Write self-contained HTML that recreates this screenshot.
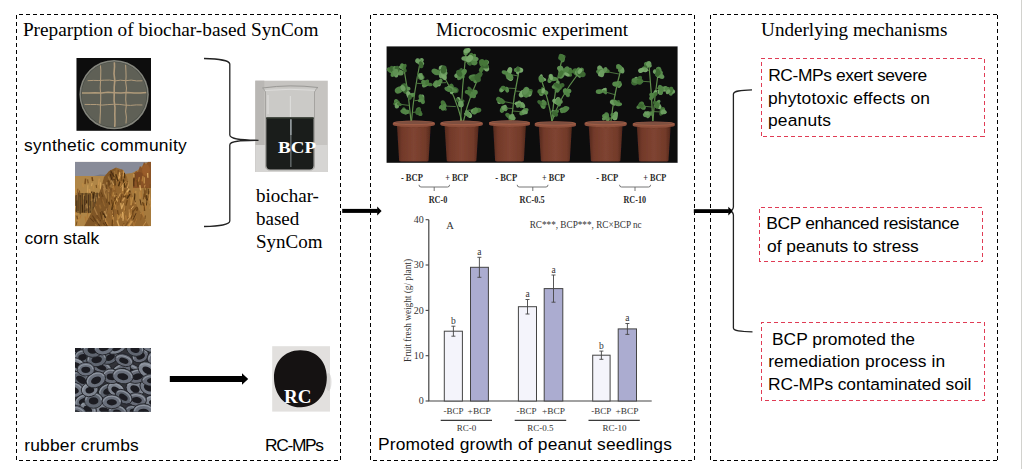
<!DOCTYPE html>
<html><head><meta charset="utf-8"><title>Graphical abstract</title>
<style>
html,body{margin:0;padding:0;background:#fff;}
body{width:1022px;height:469px;overflow:hidden;position:relative;}
svg{position:absolute;left:0;top:0;display:block;}
.sf{font-family:"Liberation Serif","Times New Roman",serif;}
.ss{font-family:"Liberation Sans",Arial,sans-serif;}
</style></head><body>
<svg width="1022" height="469" viewBox="0 0 1022 469">
<defs>
<linearGradient id="potg" x1="0" x2="1" y1="0" y2="0">
<stop offset="0" stop-color="#552a1c"/><stop offset="0.15" stop-color="#72392a"/><stop offset="0.5" stop-color="#7f4431"/><stop offset="0.85" stop-color="#723a2a"/><stop offset="1" stop-color="#52281b"/>
</linearGradient>
<filter id="soft" x="-5%" y="-5%" width="110%" height="110%"><feGaussianBlur stdDeviation="0.45"/></filter>
</defs>
<rect x="0" y="0" width="1022" height="469" fill="#fff"/>
<rect x="1021" y="0" width="1" height="469" fill="#d2d2ce"/>

<g filter="url(#soft)">
<rect x="76.5" y="58" width="74.5" height="72.8" fill="#0b0b0b"/>
<circle cx="114.1" cy="94.6" r="34.7" fill="#83847b"/>
<circle cx="114.1" cy="94.6" r="33.2" fill="#4a4c45"/>
<circle cx="114.1" cy="94.6" r="32.5" fill="#5e6057"/>
<clipPath id="dishc"><circle cx="114.1" cy="94.6" r="32.4"/></clipPath>
<g clip-path="url(#dishc)" stroke="#b09a7a" fill="none" stroke-linecap="round" stroke-linejoin="round">
<polyline points="100.3,64 100.8,70 100.7,76 100.5,82 100.2,88 100.7,94 100.7,100 100.4,106 100.4,112 100.1,118 99.8,124" stroke-width="1.1"/>
<polyline points="114.3,60 114.5,66.8 114,73.6 114.8,80.4 114.2,87.2 114.2,94 114.1,100.8 115,107.6 114.8,114.4 115,121.2 114.7,128" stroke-width="1.6"/>
<polyline points="125.6,65 125.9,70.8 126.1,76.6 125.7,82.4 126.5,88.2 125.9,94 125.7,99.8 126.3,105.6 125.6,111.4 126.4,117.2 126,123" stroke-width="1.1"/>
<polyline points="88,80.7 93.4,80.4 98.8,80.5 104.2,80.2 109.6,80.1 115,80.9 120.4,80.2 125.8,80.7 131.2,80.1 136.6,80.9 142,80.8" stroke-width="1.0"/>
<polyline points="82,93.1 88.5,93 95,92.8 101.5,93 108,92.3 114.5,92.7 121,93 127.5,92.4 134,93.1 140.5,93 147,92.5" stroke-width="1.5"/>
<polyline points="85,104.4 90.7,104.5 96.4,104.5 102.1,105.1 107.8,104.6 113.5,104.3 119.2,104.4 124.9,105.1 130.6,105.4 136.3,104.9 142,105" stroke-width="1.0"/>
</g>
</g>
<g filter="url(#soft)">
<clipPath id="cornc"><rect x="75" y="161.8" width="76" height="64.5"/></clipPath>
<clipPath id="shockc"><path d="M84,226.3 L95,206 L101,188 L104,177 L109,171 L116,167.5 L123,170 L127,177 L130,190 L138,208 L149,226.3 Z"/></clipPath>
<g clip-path="url(#cornc)">
<rect x="75" y="161.8" width="76" height="64.5" fill="#a67a3e"/>
<path d="M75,161.8 L151,161.8 L151,163 L146,162.5 L142,166 L138,170 L132,173 L124,174 L116,172 L108,174 L100,176 L90,176.5 L75,176 Z" fill="#888b98"/>
<path d="M92,176.6 L100,174.5 L108,175 L108,178 L94,178 Z" fill="#787880"/>
<path d="M133,176 L136,171 L138,172 L140,166 L142,168 L144,162 L146,165 L148,161.8 L151,161.8 L151,188 L133,188 Z" fill="#8a5226"/>
<ellipse cx="146" cy="170" rx="4" ry="6" fill="#9c5e2a" opacity="0.8"/>
<ellipse cx="139" cy="176" rx="4" ry="4" fill="#7a4620" opacity="0.7"/>
<rect x="75" y="176" width="30" height="50.3" fill="#b08646"/>
<rect x="75" y="193" width="26" height="20" fill="#4a3014" opacity="0.45"/>
<path d="M93.1,202 L93.3,206.9" stroke="#b07a38" stroke-width="1.3"/>
<path d="M144.1,193.6 L143.3,199.3" stroke="#7a5020" stroke-width="1.2"/>
<path d="M116.8,195.3 L116.1,202.6" stroke="#6e4518" stroke-width="1.5"/>
<path d="M114.8,211.1 L113.7,217.5" stroke="#c89450" stroke-width="1"/>
<path d="M77.4,216.8 L77.9,222.2" stroke="#bc8a44" stroke-width="1.4"/>
<path d="M145,190.2 L144.9,197.2" stroke="#6e4518" stroke-width="1.5"/>
<path d="M82.4,183.3 L83.5,187.3" stroke="#bc8a44" stroke-width="1.4"/>
<path d="M140,191.4 L140.2,198.5" stroke="#bc8a44" stroke-width="1.3"/>
<path d="M143.7,203.4 L144.6,211" stroke="#6e4518" stroke-width="1.4"/>
<path d="M99.8,201.9 L98.9,207.8" stroke="#4e3010" stroke-width="1.3"/>
<path d="M150.1,184.3 L150.1,187.9" stroke="#7a5020" stroke-width="0.9"/>
<path d="M135.8,190.9 L135.4,194.6" stroke="#bc8a44" stroke-width="1.5"/>
<path d="M78.4,205.3 L78.9,208.5" stroke="#8c5c28" stroke-width="1.2"/>
<path d="M145.1,184.8 L143.9,189" stroke="#c89450" stroke-width="0.9"/>
<path d="M120.6,178.4 L120.4,182.4" stroke="#d8a860" stroke-width="0.9"/>
<path d="M78.2,216.9 L79.3,221.5" stroke="#bc8a44" stroke-width="1.1"/>
<path d="M141.1,189.8 L141.5,197.1" stroke="#b07a38" stroke-width="1.3"/>
<path d="M146.5,195.3 L147,200.5" stroke="#4e3010" stroke-width="1.5"/>
<path d="M108.2,188.9 L107.9,193.4" stroke="#bc8a44" stroke-width="1.6"/>
<path d="M98.9,194.3 L98.1,200.3" stroke="#8c5c28" stroke-width="1.2"/>
<path d="M126.6,193.2 L127.2,199.8" stroke="#c89450" stroke-width="1.3"/>
<path d="M147.6,173 L147.9,177.8" stroke="#d8a860" stroke-width="1.3"/>
<path d="M99.3,193.7 L99,198.3" stroke="#d8a860" stroke-width="1"/>
<path d="M103.7,212.5 L103.8,215.7" stroke="#6e4518" stroke-width="1"/>
<path d="M91.9,214 L91.2,218.2" stroke="#bc8a44" stroke-width="1.3"/>
<path d="M82.4,204.6 L82.8,212.4" stroke="#4e3010" stroke-width="1.2"/>
<path d="M140,179.8 L140.4,184.5" stroke="#7a5020" stroke-width="1"/>
<path d="M134.8,173.6 L134.4,181.3" stroke="#6e4518" stroke-width="1.5"/>
<path d="M100.8,215.1 L101.1,218.5" stroke="#6e4518" stroke-width="1.1"/>
<path d="M114.4,216.1 L114.7,221.4" stroke="#d8a860" stroke-width="1.1"/>
<path d="M106.1,219.3 L104.9,223.1" stroke="#bc8a44" stroke-width="1.2"/>
<path d="M149.9,205 L149.8,208.2" stroke="#d8a860" stroke-width="1.2"/>
<path d="M142.6,211.6 L143.7,218.9" stroke="#b07a38" stroke-width="1.4"/>
<path d="M78.4,218.6 L79.4,225" stroke="#bc8a44" stroke-width="1.3"/>
<path d="M76,211.3 L75.5,215.1" stroke="#c89450" stroke-width="1.2"/>
<path d="M106.4,220.2 L106.1,226" stroke="#d8a860" stroke-width="1.6"/>
<path d="M116.1,214.3 L115.4,217.6" stroke="#b07a38" stroke-width="1.2"/>
<path d="M137.1,179.9 L138.1,186.8" stroke="#6e4518" stroke-width="1.5"/>
<path d="M75.6,205.9 L74.5,213.2" stroke="#d8a860" stroke-width="1"/>
<path d="M122,200.9 L121.6,204.2" stroke="#c89450" stroke-width="1.5"/>
<path d="M133.9,174.1 L133.9,177.4" stroke="#c89450" stroke-width="1.5"/>
<path d="M81.5,200.1 L81.1,204.7" stroke="#8c5c28" stroke-width="1.1"/>
<path d="M104.6,191 L105.8,195.3" stroke="#bc8a44" stroke-width="0.9"/>
<path d="M117.2,209.9 L116.2,214.8" stroke="#6e4518" stroke-width="0.8"/>
<path d="M110,206.9 L110.4,212.6" stroke="#c89450" stroke-width="1.3"/>
<path d="M107.8,194.1 L108.3,199.6" stroke="#bc8a44" stroke-width="1.6"/>
<path d="M106.8,177.8 L106.2,181.9" stroke="#b07a38" stroke-width="1.4"/>
<path d="M92.1,183 L91.6,186.1" stroke="#d8a860" stroke-width="0.9"/>
<path d="M127.5,220.2 L128.3,226" stroke="#bc8a44" stroke-width="1.3"/>
<path d="M130.8,202.9 L131,206.5" stroke="#c89450" stroke-width="1.2"/>
<path d="M92.9,194.9 L93.1,200.5" stroke="#bc8a44" stroke-width="0.9"/>
<path d="M76.8,215.7 L77.6,219.3" stroke="#7a5020" stroke-width="1.5"/>
<path d="M147.4,198.6 L146.3,205.6" stroke="#4e3010" stroke-width="0.9"/>
<path d="M131.9,220 L131.5,223.3" stroke="#6e4518" stroke-width="1.5"/>
<path d="M93.4,185.3 L93.7,189.5" stroke="#bc8a44" stroke-width="1"/>
<path d="M120.6,220.2 L121.7,226" stroke="#bc8a44" stroke-width="1.2"/>
<path d="M149,191 L148.1,197.7" stroke="#7a5020" stroke-width="0.9"/>
<path d="M105.5,217.8 L105.5,221.6" stroke="#7a5020" stroke-width="1.5"/>
<path d="M114.3,197.4 L113.6,204" stroke="#d8a860" stroke-width="1.4"/>
<path d="M86.1,200.7 L87,208.4" stroke="#d8a860" stroke-width="1.3"/>
<path d="M140,199.4 L141.2,205.3" stroke="#4e3010" stroke-width="1"/>
<path d="M95.4,214 L95.5,218" stroke="#4e3010" stroke-width="1.1"/>
<path d="M133.8,178.6 L133.8,186.6" stroke="#4e3010" stroke-width="1.2"/>
<path d="M138.4,209.8 L138.4,215.6" stroke="#b07a38" stroke-width="1.5"/>
<path d="M105.4,210.7 L105.3,218.5" stroke="#4e3010" stroke-width="1.5"/>
<path d="M124.3,212.8 L123.6,216.1" stroke="#d8a860" stroke-width="1"/>
<path d="M89.4,188.9 L89.9,192.8" stroke="#c89450" stroke-width="1.5"/>
<path d="M94.4,216.8 L94.2,221.4" stroke="#b07a38" stroke-width="0.9"/>
<path d="M95.1,219 L95,222.2" stroke="#8c5c28" stroke-width="0.8"/>
<path d="M100.4,197.1 L99.7,202.5" stroke="#7a5020" stroke-width="1.1"/>
<path d="M116.4,182.5 L116.8,186.9" stroke="#b07a38" stroke-width="1.2"/>
<path d="M115.1,188.5 L115.6,194.2" stroke="#8c5c28" stroke-width="1.4"/>
<path d="M97.5,208.1 L98.2,214.4" stroke="#d8a860" stroke-width="0.9"/>
<path d="M146.8,187.6 L146.8,193.4" stroke="#7a5020" stroke-width="1.2"/>
<path d="M79.5,190.5 L80.1,197.2" stroke="#6e4518" stroke-width="0.9"/>
<path d="M142.6,202.1 L143.7,205.8" stroke="#6e4518" stroke-width="1.5"/>
<path d="M124,206.9 L123.5,212" stroke="#6e4518" stroke-width="1.2"/>
<path d="M98.7,185.1 L99.3,188.5" stroke="#bc8a44" stroke-width="1.1"/>
<path d="M95.2,194.6 L94.1,202" stroke="#d8a860" stroke-width="1"/>
<path d="M133.4,188.3 L133.2,193" stroke="#b07a38" stroke-width="1.1"/>
<path d="M139.4,177.2 L138.4,181.5" stroke="#b07a38" stroke-width="1.3"/>
<path d="M144.2,177.2 L144.3,183.6" stroke="#bc8a44" stroke-width="1.5"/>
<path d="M131.9,204.2 L131.7,208" stroke="#4e3010" stroke-width="1.2"/>
<path d="M87.9,185.2 L87.6,192.6" stroke="#d8a860" stroke-width="0.8"/>
<path d="M136,213 L135.8,220.7" stroke="#d8a860" stroke-width="1.3"/>
<path d="M149.3,203.6 L150.1,208.1" stroke="#7a5020" stroke-width="0.8"/>
<path d="M89.5,206.2 L90.1,209.7" stroke="#4e3010" stroke-width="1.2"/>
<path d="M114.8,198.2 L114.9,202.2" stroke="#c89450" stroke-width="1.5"/>
<path d="M145.4,215.5 L144.9,219.1" stroke="#6e4518" stroke-width="0.9"/>
<path d="M135.2,200.7 L134.9,203.9" stroke="#4e3010" stroke-width="1.2"/>
<path d="M112.9,177.9 L112.5,182.6" stroke="#8c5c28" stroke-width="1.4"/>
<path d="M85.2,216.5 L86.2,222.5" stroke="#b07a38" stroke-width="1.4"/>
<path d="M101.1,214.1 L102,221.8" stroke="#bc8a44" stroke-width="1.4"/>
<path d="M91.8,191.5 L91.6,198.5" stroke="#4e3010" stroke-width="1.4"/>
<path d="M104.8,198.8 L105.6,202.1" stroke="#4e3010" stroke-width="1.3"/>
<path d="M98.2,198.4 L97.9,205.1" stroke="#6e4518" stroke-width="1.2"/>
<path d="M77.8,188.8 L77.7,196" stroke="#8c5c28" stroke-width="1.3"/>
<path d="M92,177.1 L92.7,181.2" stroke="#6e4518" stroke-width="1.5"/>
<path d="M115.6,184.3 L115.8,187.4" stroke="#6e4518" stroke-width="1.3"/>
<path d="M85.6,205 L84.8,210.2" stroke="#c89450" stroke-width="1.1"/>
<path d="M99.2,178.5 L98.5,185.1" stroke="#c89450" stroke-width="1.1"/>
<path d="M77,221.4 L76.1,225.5" stroke="#7a5020" stroke-width="1"/>
<path d="M100.3,182.3 L100.5,189.9" stroke="#d8a860" stroke-width="1"/>
<path d="M134.9,193.4 L134.4,201.1" stroke="#4e3010" stroke-width="1.2"/>
<path d="M77.3,192.5 L76.8,200.5" stroke="#c89450" stroke-width="1.3"/>
<path d="M148.7,199.2 L147.5,202.3" stroke="#b07a38" stroke-width="0.8"/>
<path d="M113.2,199.2 L113.3,203.1" stroke="#8c5c28" stroke-width="1"/>
<path d="M149,193.9 L150,201" stroke="#c89450" stroke-width="1.1"/>
<path d="M132.1,201 L133.2,206" stroke="#6e4518" stroke-width="1.5"/>
<path d="M83.7,194.9 L84.1,199.6" stroke="#bc8a44" stroke-width="0.9"/>
<path d="M131.2,210.8 L131.4,217.9" stroke="#6e4518" stroke-width="1.1"/>
<path d="M106.5,187.6 L106.5,194.4" stroke="#d8a860" stroke-width="1.5"/>
<path d="M113.5,211.6 L114,219.2" stroke="#7a5020" stroke-width="0.8"/>
<path d="M88,211.6 L87.1,218.7" stroke="#b07a38" stroke-width="1.1"/>
<path d="M120.7,213.9 L120.9,217.1" stroke="#c89450" stroke-width="1.2"/>
<path d="M143.2,205.7 L142.9,210.4" stroke="#b07a38" stroke-width="1"/>
<path d="M134.8,214.1 L134.3,218.8" stroke="#7a5020" stroke-width="0.9"/>
<path d="M124.3,188.1 L123.5,191.3" stroke="#6e4518" stroke-width="1.3"/>
<path d="M75.9,187.6 L75.2,195.4" stroke="#bc8a44" stroke-width="1.2"/>
<path d="M143.9,186.7 L144.6,194.1" stroke="#7a5020" stroke-width="0.9"/>
<path d="M81,215 L79.9,218.5" stroke="#b07a38" stroke-width="1"/>
<path d="M142.9,175.9 L142.2,181.3" stroke="#b07a38" stroke-width="1.3"/>
<path d="M132.9,212.1 L133.1,216.8" stroke="#7a5020" stroke-width="1.4"/>
<path d="M97.2,220.5 L96.9,225.7" stroke="#b07a38" stroke-width="1.2"/>
<path d="M110.3,210.5 L109.9,213.9" stroke="#7a5020" stroke-width="1.4"/>
<path d="M145.2,203.6 L145.9,208.4" stroke="#b07a38" stroke-width="1.3"/>
<path d="M91.3,193.1 L90.9,201.1" stroke="#bc8a44" stroke-width="1.2"/>
<path d="M94.1,191.9 L93.4,198.6" stroke="#4e3010" stroke-width="1.5"/>
<path d="M150,200.2 L150.1,207.8" stroke="#bc8a44" stroke-width="1.1"/>
<path d="M89.5,205.7 L90.5,210.7" stroke="#bc8a44" stroke-width="1.2"/>
<path d="M119.7,178.6 L118.5,186.4" stroke="#b07a38" stroke-width="0.8"/>
<path d="M86.5,200.2 L86.4,203.5" stroke="#4e3010" stroke-width="1.4"/>
<path d="M96,196.9 L96.6,201.6" stroke="#d8a860" stroke-width="0.9"/>
<path d="M108.7,218.8 L108,224" stroke="#7a5020" stroke-width="1.4"/>
<path d="M128.2,221.9 L129.1,226" stroke="#8c5c28" stroke-width="1.6"/>
<path d="M107.8,220.2 L109,225.6" stroke="#4e3010" stroke-width="1.1"/>
<path d="M139.8,185.1 L140.7,190.4" stroke="#d8a860" stroke-width="1.4"/>
<path d="M145.7,195.9 L146,199" stroke="#6e4518" stroke-width="1.2"/>
<path d="M87.6,179.3 L88.2,183.3" stroke="#7a5020" stroke-width="1.1"/>
<path d="M148.4,188.7 L148.4,194.5" stroke="#4e3010" stroke-width="0.8"/>
<path d="M107.9,192.6 L108,195.8" stroke="#b07a38" stroke-width="1.2"/>
<path d="M94.9,207.9 L95.4,213.4" stroke="#8c5c28" stroke-width="0.8"/>
<path d="M107.6,205.9 L108.6,212.2" stroke="#4e3010" stroke-width="1.6"/>
<path d="M131.5,215.7 L132.1,220.8" stroke="#8c5c28" stroke-width="1.2"/>
<path d="M96.2,184.8 L96.6,187.8" stroke="#7a5020" stroke-width="1.2"/>
<path d="M125.6,219.7 L125.8,226" stroke="#bc8a44" stroke-width="1.1"/>
<path d="M123,190.5 L122.2,193.9" stroke="#b07a38" stroke-width="1.1"/>
<path d="M101.7,197.9 L101.6,204.9" stroke="#6e4518" stroke-width="1.3"/>
<path d="M85.6,178.7 L85,184.2" stroke="#7a5020" stroke-width="1.5"/>
<path d="M121.5,178.4 L121.7,184.3" stroke="#7a5020" stroke-width="0.9"/>
<path d="M76.3,195 L76.3,212.1" stroke="#352010" stroke-width="0.9" opacity="0.8"/>
<path d="M78,192.3 L78,211.1" stroke="#352010" stroke-width="0.9" opacity="0.8"/>
<path d="M80.2,195 L80.2,214.3" stroke="#352010" stroke-width="0.9" opacity="0.8"/>
<path d="M82.2,193.2 L82.2,212.4" stroke="#352010" stroke-width="0.9" opacity="0.8"/>
<path d="M84.6,195.8 L84.6,212.6" stroke="#352010" stroke-width="0.9" opacity="0.8"/>
<path d="M86,192.9 L86,211.2" stroke="#352010" stroke-width="0.9" opacity="0.8"/>
<path d="M88.4,194.4 L88.4,213.2" stroke="#352010" stroke-width="0.9" opacity="0.8"/>
<path d="M90.2,193.7 L90.2,212.7" stroke="#352010" stroke-width="0.9" opacity="0.8"/>
<path d="M93.2,194 L93.2,214.8" stroke="#352010" stroke-width="0.9" opacity="0.8"/>
<path d="M95.1,194.8 L95.1,211.5" stroke="#352010" stroke-width="0.9" opacity="0.8"/>
<path d="M97.1,192.5 L97.1,214.4" stroke="#352010" stroke-width="0.9" opacity="0.8"/>
<path d="M99.5,195.8 L99.5,214.9" stroke="#352010" stroke-width="0.9" opacity="0.8"/>
<path d="M84,226.3 L95,206 L101,188 L104,177 L109,171 L116,167.5 L123,170 L127,177 L130,190 L138,208 L149,226.3 Z" fill="#94662f"/>
<g clip-path="url(#shockc)">
<path d="M112.2,211.7 l1,8.9" stroke="#d8a860" stroke-width="1.2"/>
<path d="M110.6,172.2 l3.6,8" stroke="#6e4518" stroke-width="1.4"/>
<path d="M111.5,199.6 l0.8,4" stroke="#6e4518" stroke-width="1.4"/>
<path d="M107,182 l-1.1,8" stroke="#c89450" stroke-width="1.2"/>
<path d="M108.1,180.3 l1.7,7.7" stroke="#6e4518" stroke-width="1.6"/>
<path d="M103.2,188.7 l2.6,3.9" stroke="#8c5c28" stroke-width="1.6"/>
<path d="M138,207.1 l-1.4,3.8" stroke="#6e4518" stroke-width="1.6"/>
<path d="M111.2,186.5 l1,8.7" stroke="#8c5c28" stroke-width="1.2"/>
<path d="M117.8,214.1 l0.1,8.3" stroke="#bc8a44" stroke-width="1.2"/>
<path d="M113.2,203.5 l-1.5,6.5" stroke="#4e3010" stroke-width="1.4"/>
<path d="M124.9,189.6 l-0.1,7.7" stroke="#6e4518" stroke-width="1.1"/>
<path d="M93.4,219.2 l5.3,4.6" stroke="#6e4518" stroke-width="0.9"/>
<path d="M122.5,169 l-4.3,6.7" stroke="#8c5c28" stroke-width="1.2"/>
<path d="M92.4,215.5 l3.5,5.7" stroke="#6e4518" stroke-width="1.3"/>
<path d="M114.6,184.8 l-0.6,6.8" stroke="#8c5c28" stroke-width="1.4"/>
<path d="M129,215.7 l-2.4,5.2" stroke="#8c5c28" stroke-width="1"/>
<path d="M100.6,225.9 l1.5,4.4" stroke="#8c5c28" stroke-width="1.4"/>
<path d="M113.8,186.7 l1.9,5" stroke="#8c5c28" stroke-width="1.2"/>
<path d="M146.5,220.9 l-3.7,5.5" stroke="#c89450" stroke-width="0.9"/>
<path d="M130.7,197.3 l0.6,7.9" stroke="#bc8a44" stroke-width="1.1"/>
<path d="M107,226.1 l0.7,5" stroke="#b07a38" stroke-width="1.1"/>
<path d="M129.2,220.5 l-0.6,5.8" stroke="#8c5c28" stroke-width="1.1"/>
<path d="M122,194.2 l-1.7,8.2" stroke="#6e4518" stroke-width="1.1"/>
<path d="M109,167 l-0.8,3.9" stroke="#4e3010" stroke-width="1.1"/>
<path d="M99.6,188.9 l-0.2,6.7" stroke="#7a5020" stroke-width="1.4"/>
<path d="M136.5,218.6 l-3.2,8" stroke="#b07a38" stroke-width="1.2"/>
<path d="M98.1,223.5 l2.4,4" stroke="#4e3010" stroke-width="0.9"/>
<path d="M127,181.8 l-2.9,5.4" stroke="#bc8a44" stroke-width="0.8"/>
<path d="M96.7,218.8 l2.6,4.7" stroke="#bc8a44" stroke-width="1.3"/>
<path d="M102.7,224.6 l0.8,5.4" stroke="#b07a38" stroke-width="0.9"/>
<path d="M131.5,221 l-3.3,4.5" stroke="#8c5c28" stroke-width="1.2"/>
<path d="M132.6,197.1 l-1.6,8" stroke="#bc8a44" stroke-width="1.5"/>
<path d="M110.4,185.3 l-2,7" stroke="#c89450" stroke-width="1.3"/>
<path d="M124.2,170.3 l-1.5,6.4" stroke="#b07a38" stroke-width="0.9"/>
<path d="M135.6,218.2 l-2.7,8.2" stroke="#8c5c28" stroke-width="1.6"/>
<path d="M117.5,210.1 l0.7,5" stroke="#6e4518" stroke-width="1.3"/>
<path d="M116.7,193.8 l-1.8,5.3" stroke="#4e3010" stroke-width="1.2"/>
<path d="M136,213.2 l-2.9,6.5" stroke="#4e3010" stroke-width="0.9"/>
<path d="M114.9,176.8 l0.2,8.6" stroke="#4e3010" stroke-width="1.1"/>
<path d="M106,214.9 l-0.6,5.2" stroke="#c89450" stroke-width="1"/>
<path d="M105.1,193.9 l1.9,5.1" stroke="#c89450" stroke-width="1.4"/>
<path d="M101.2,192.3 l1.8,4.8" stroke="#6e4518" stroke-width="1"/>
<path d="M100.3,212.1 l1.7,7.2" stroke="#6e4518" stroke-width="1.3"/>
<path d="M120.7,203.1 l1.1,6" stroke="#d8a860" stroke-width="1.2"/>
<path d="M122.1,173 l-1,8.2" stroke="#6e4518" stroke-width="1"/>
<path d="M127.8,222.1 l-2.6,4.4" stroke="#7a5020" stroke-width="1.1"/>
<path d="M114.9,226.8 l-0.8,4.8" stroke="#8c5c28" stroke-width="1.5"/>
<path d="M111.2,179.7 l2.3,5.3" stroke="#d8a860" stroke-width="1.2"/>
<path d="M133.3,203.6 l-2.2,5.8" stroke="#8c5c28" stroke-width="1.5"/>
<path d="M103.6,183.8 l1.7,7.6" stroke="#d8a860" stroke-width="1.3"/>
<path d="M104.6,211 l1.8,5.3" stroke="#d8a860" stroke-width="1.5"/>
<path d="M118.5,197.1 l0.1,7.8" stroke="#8c5c28" stroke-width="1.3"/>
<path d="M122.5,186.8 l-0.3,6.8" stroke="#b07a38" stroke-width="1.1"/>
<path d="M127.7,181 l-1.8,6.2" stroke="#7a5020" stroke-width="1"/>
<path d="M119.2,196.3 l1.4,4.3" stroke="#7a5020" stroke-width="1.4"/>
<path d="M120.7,181.3 l-0.7,4.5" stroke="#b07a38" stroke-width="1.5"/>
<path d="M117,220.6 l2.1,5.6" stroke="#d8a860" stroke-width="1.3"/>
<path d="M108.3,185.5 l2.4,4.4" stroke="#8c5c28" stroke-width="1.1"/>
<path d="M131.6,187.6 l-1.9,4.6" stroke="#4e3010" stroke-width="1.3"/>
<path d="M108,186.6 l1.7,5.5" stroke="#b07a38" stroke-width="0.9"/>
<path d="M129.8,212.3 l-1.3,5" stroke="#b07a38" stroke-width="1.1"/>
<path d="M96.6,215.3 l4.2,6" stroke="#6e4518" stroke-width="1.1"/>
<path d="M131.3,220.7 l-3,5.8" stroke="#bc8a44" stroke-width="1.6"/>
<path d="M107.3,197.5 l-0.9,5.3" stroke="#6e4518" stroke-width="0.8"/>
<path d="M120,181.5 l-1.5,4.8" stroke="#4e3010" stroke-width="1.5"/>
<path d="M108.8,213.5 l0.4,4.2" stroke="#8c5c28" stroke-width="1"/>
<path d="M129.4,180.7 l-2,7.4" stroke="#d8a860" stroke-width="0.9"/>
<path d="M124.1,203.9 l0.9,7" stroke="#6e4518" stroke-width="0.9"/>
<path d="M120.1,174.9 l-1.1,4.3" stroke="#bc8a44" stroke-width="1.4"/>
<path d="M123.9,204.3 l0.7,6.2" stroke="#c89450" stroke-width="0.9"/>
<path d="M111.4,211.2 l1,3.9" stroke="#8c5c28" stroke-width="1.5"/>
<path d="M98.2,193.6 l3.6,3.5" stroke="#7a5020" stroke-width="1.5"/>
<path d="M123.1,213.2 l0.5,6.2" stroke="#c89450" stroke-width="1.1"/>
<path d="M113.3,185.5 l1,4.4" stroke="#b07a38" stroke-width="1.2"/>
<path d="M105.4,206.7 l2.4,3.3" stroke="#8c5c28" stroke-width="1"/>
<path d="M116.5,198.9 l-3,6.5" stroke="#bc8a44" stroke-width="1.3"/>
<path d="M117.2,213.9 l0.9,6.1" stroke="#b07a38" stroke-width="0.9"/>
<path d="M117.3,198.8 l-2.2,5" stroke="#6e4518" stroke-width="1.2"/>
<path d="M128.9,178.4 l-0.7,4.8" stroke="#d8a860" stroke-width="0.9"/>
<path d="M115.1,201.4 l-1.8,4.9" stroke="#bc8a44" stroke-width="0.8"/>
<path d="M118.3,169.9 l-0.2,4.3" stroke="#7a5020" stroke-width="1.5"/>
<path d="M119.6,172.3 l-0.3,5.5" stroke="#d8a860" stroke-width="1.4"/>
<path d="M104.6,217.3 l2.1,6.5" stroke="#c89450" stroke-width="0.9"/>
<path d="M101.8,211.1 l1.8,4.4" stroke="#6e4518" stroke-width="1.3"/>
<path d="M120,175.2 l-3.1,5.8" stroke="#c89450" stroke-width="1.2"/>
<path d="M116,193.6 l-0.6,4.4" stroke="#8c5c28" stroke-width="1.2"/>
<path d="M114.6,195.3 l3,6.3" stroke="#d8a860" stroke-width="1.2"/>
<path d="M131,208.7 l-0.4,7.7" stroke="#b07a38" stroke-width="1.3"/>
<path d="M142.1,214.3 l-1.8,6.1" stroke="#8c5c28" stroke-width="1.3"/>
<path d="M142.6,210.2 l-1.9,3.8" stroke="#bc8a44" stroke-width="0.9"/>
<path d="M108.3,176.4 l2.4,6.1" stroke="#bc8a44" stroke-width="1.3"/>
<path d="M113.4,192.3 l-0.6,4.2" stroke="#bc8a44" stroke-width="1.1"/>
<path d="M103.2,213.4 l2.5,4.5" stroke="#4e3010" stroke-width="1.4"/>
<path d="M114.3,170.7 l-0.5,8.2" stroke="#bc8a44" stroke-width="1.2"/>
<path d="M116.1,194.6 l1.6,6" stroke="#bc8a44" stroke-width="0.8"/>
<path d="M99.5,204.7 l1.2,3.9" stroke="#b07a38" stroke-width="1.6"/>
<path d="M123.4,179.3 l1.5,8.4" stroke="#4e3010" stroke-width="1.6"/>
<path d="M128.6,189.5 l-1.8,8.3" stroke="#6e4518" stroke-width="0.9"/>
<path d="M122.9,211.6 l-1.6,6.3" stroke="#c89450" stroke-width="1"/>
<path d="M124.1,169.4 l-0.4,5.6" stroke="#b07a38" stroke-width="1"/>
<path d="M125,175.4 l0.3,5.2" stroke="#8c5c28" stroke-width="1"/>
<path d="M105.3,222.2 l2.5,4.9" stroke="#4e3010" stroke-width="1.2"/>
<path d="M116.3,195.7 l-1.6,5.2" stroke="#6e4518" stroke-width="1.4"/>
<path d="M90.1,218.2 l3.8,3.7" stroke="#6e4518" stroke-width="1.1"/>
<path d="M106.6,184.6 l-0.3,7.1" stroke="#7a5020" stroke-width="1.1"/>
<path d="M124.6,173 l0,5.3" stroke="#4e3010" stroke-width="1.2"/>
<path d="M111.4,183.8 l0.7,4.4" stroke="#bc8a44" stroke-width="1.4"/>
<path d="M132.5,216.9 l-2.8,4.4" stroke="#b07a38" stroke-width="0.8"/>
<path d="M106.2,220.7 l1.7,4.5" stroke="#b07a38" stroke-width="1.4"/>
<path d="M94,207.3 l3.4,7.8" stroke="#c89450" stroke-width="1.2"/>
<path d="M112.4,216.1 l0.7,7.8" stroke="#b07a38" stroke-width="1.4"/>
<path d="M130,194.1 l-3,4.5" stroke="#4e3010" stroke-width="1.5"/>
<path d="M110.5,194.4 l3,5" stroke="#8c5c28" stroke-width="1.2"/>
<path d="M113.8,201.2 l-0.9,6.3" stroke="#6e4518" stroke-width="1"/>
<path d="M123.6,203.2 l-1.7,4.5" stroke="#d8a860" stroke-width="1.1"/>
<path d="M96.6,193.7 l2.7,4.3" stroke="#c89450" stroke-width="1.6"/>
<path d="M113.5,172.7 l-0.8,4.5" stroke="#7a5020" stroke-width="1.1"/>
<path d="M93.8,200.6 l3.1,5.5" stroke="#b07a38" stroke-width="0.9"/>
<path d="M125.6,215.3 l0.7,5" stroke="#b07a38" stroke-width="1.3"/>
<path d="M110.5,170.5 l3.8,6.6" stroke="#4e3010" stroke-width="1.1"/>
<path d="M136.7,198.4 l-1.5,5.3" stroke="#c89450" stroke-width="1.5"/>
<path d="M124.1,212.2 l-1.6,3.8" stroke="#bc8a44" stroke-width="0.9"/>
<path d="M112.6,219.5 l-0.5,6.6" stroke="#6e4518" stroke-width="1.3"/>
<path d="M103.3,222.9 l4.2,5.8" stroke="#6e4518" stroke-width="1.2"/>
<path d="M127.5,191.9 l-2.9,4.3" stroke="#8c5c28" stroke-width="1"/>
<path d="M125.6,192.6 l-0.4,4.8" stroke="#6e4518" stroke-width="1.5"/>
<path d="M121.3,213.6 l-2.9,5.3" stroke="#bc8a44" stroke-width="1.5"/>
<path d="M124.1,223.2 l-1.5,3.8" stroke="#7a5020" stroke-width="1.6"/>
<path d="M113.8,209.5 l-0.3,7.3" stroke="#7a5020" stroke-width="1.2"/>
<path d="M131.8,214.4 l-4.6,6.2" stroke="#d8a860" stroke-width="0.9"/>
<path d="M133.1,211.6 l-2.1,7.6" stroke="#6e4518" stroke-width="1"/>
<path d="M103.6,187.6 l1.3,6.7" stroke="#c89450" stroke-width="1.6"/>
<path d="M124.2,223.9 l-1.7,4.9" stroke="#b07a38" stroke-width="1"/>
<path d="M132.7,210 l0.6,7.3" stroke="#7a5020" stroke-width="1"/>
<path d="M136.8,206.8 l-4.5,5.6" stroke="#6e4518" stroke-width="1.3"/>
<path d="M115.8,206.1 l-0.1,8.3" stroke="#8c5c28" stroke-width="1"/>
<path d="M101.8,183.7 l5.2,6.6" stroke="#c89450" stroke-width="0.9"/>
<path d="M108.3,200 l1.3,4.7" stroke="#4e3010" stroke-width="1.2"/>
<path d="M117.8,201.9 l-0.3,4" stroke="#8c5c28" stroke-width="0.9"/>
<path d="M107.2,189 l-0.8,8.3" stroke="#bc8a44" stroke-width="0.9"/>
<path d="M124.6,197.5 l-2.2,3.7" stroke="#c89450" stroke-width="1.5"/>
<path d="M122.5,212 l0.6,8.9" stroke="#d8a860" stroke-width="1.1"/>
<path d="M123.9,168.3 l-0.7,8" stroke="#c89450" stroke-width="1.1"/>
<path d="M132.3,221 l-4.5,6" stroke="#c89450" stroke-width="1.6"/>
<path d="M95.3,224.2 l4.6,7.2" stroke="#bc8a44" stroke-width="1.4"/>
<path d="M128.7,223.6 l-1.6,5.6" stroke="#bc8a44" stroke-width="1.1"/>
<path d="M120.4,193.2 l-2.1,4.7" stroke="#c89450" stroke-width="1"/>
<path d="M109.4,180.7 l-0.9,4.6" stroke="#7a5020" stroke-width="1.5"/>
<path d="M125.3,181.2 l-4.8,6.6" stroke="#bc8a44" stroke-width="0.9"/>
<path d="M100.3,194.5 l1.6,8.2" stroke="#8c5c28" stroke-width="1.5"/>
<path d="M108.4,193.3 l0.2,8.5" stroke="#bc8a44" stroke-width="1.3"/>
<path d="M95.8,215.9 l4.1,4" stroke="#8c5c28" stroke-width="1.5"/>
<path d="M103.2,215.1 l0.3,5" stroke="#bc8a44" stroke-width="1.3"/>
<path d="M122.9,184.4 l-0.2,6.6" stroke="#d8a860" stroke-width="1.2"/>
<path d="M129.3,209.4 l0.5,8.9" stroke="#c89450" stroke-width="1.3"/>
<path d="M133.5,205.8 l-2.4,3.4" stroke="#d8a860" stroke-width="1"/>
<path d="M125.4,193.3 l-2.5,4" stroke="#6e4518" stroke-width="1.4"/>
<path d="M127.4,200 l-1.5,5.7" stroke="#6e4518" stroke-width="1.3"/>
<path d="M130.2,206.2 l-0.2,6.4" stroke="#8c5c28" stroke-width="0.8"/>
<path d="M115.4,205 l0.3,4.3" stroke="#b07a38" stroke-width="1.3"/>
<path d="M127.5,190.8 l-3.2,4.8" stroke="#bc8a44" stroke-width="1.5"/>
<path d="M102.5,199.5 l2.4,7" stroke="#b07a38" stroke-width="1"/>
<path d="M110.1,174 l2.1,6.4" stroke="#4e3010" stroke-width="1.3"/>
<path d="M106.8,208.3 l-1.4,5.9" stroke="#c89450" stroke-width="0.9"/>
<path d="M124,208.2 l-0.2,4.5" stroke="#b07a38" stroke-width="0.9"/>
<path d="M113,225.9 l-1.8,8.3" stroke="#4e3010" stroke-width="1.1"/>
<path d="M133.9,222.2 l-0.1,4.5" stroke="#b07a38" stroke-width="1.2"/>
<path d="M128,190.1 l-1,4.9" stroke="#b07a38" stroke-width="1.4"/>
<path d="M115.7,174.3 l2.3,6.9" stroke="#4e3010" stroke-width="1.3"/>
<path d="M129.4,188.5 l-2.4,3.5" stroke="#d8a860" stroke-width="1.5"/>
<path d="M84,226.3 L95,206 L101,188 L104,177 L109,171 L116,167.5 L110,200 L104,226.3 Z" fill="#3c2410" opacity="0.22"/>
</g>
</g></g>
<g>
<rect x="255.3" y="80.7" width="72.5" height="91.3" fill="#c6c4c1"/>
<rect x="255.3" y="80.7" width="9" height="91.3" fill="#b9b7b4"/>
<rect x="255.3" y="145" width="72.5" height="27" fill="#d6d5d3"/>
<path d="M262.5,88 Q264.5,89 265.5,92 L265.5,166 Q265.5,170 270,170 L310,170 Q314.5,170 314.5,166 L314.5,92 Q315.5,89 318,87.5" fill="#d0cfcc" fill-opacity="0.55" stroke="#a09f9c" stroke-width="0.9"/>
<path d="M262.5,88 Q290,84 318,87.5" fill="none" stroke="#9a9996" stroke-width="1"/>
<path d="M265,90.5 Q290,88.2 315,90.3" fill="none" stroke="#e2e1df" stroke-width="0.8"/>
<path d="M268,95 L268,114" stroke="#e6e5e3" stroke-width="1" opacity="0.8"/>
<path d="M266.3,117.6 L313.6,117.6 L313.6,165.5 Q313.6,169.4 309.6,169.4 L270.3,169.4 Q266.3,169.4 266.3,165.5 Z" fill="#1a1d1b"/>
<rect x="266.3" y="117.4" width="47.3" height="1.5" fill="#2e352c"/>
<rect x="289.8" y="96" width="1.2" height="21" fill="#e8e8e6" opacity="0.6"/>
<rect x="290" y="120" width="1.6" height="47" fill="#6d7476" opacity="0.8"/>
<rect x="290.2" y="119" width="1.4" height="16" fill="#b8c0c4" opacity="0.7"/>
<text x="278" y="152.7" font-family="Liberation Serif,serif" font-weight="bold" font-size="17.5" fill="#fff" textLength="38" lengthAdjust="spacingAndGlyphs">BCP</text>
</g>
<g filter="url(#soft)">
<clipPath id="tirec"><rect x="75" y="348" width="76" height="63.7"/></clipPath>
<g clip-path="url(#tirec)">
<rect x="75" y="348" width="76" height="63.7" fill="#303238"/>
<rect x="75" y="348" width="30" height="14" fill="#4d4742"/>
<g transform="rotate(20 130.3 370.8)"><ellipse cx="130.3" cy="370.8" rx="10.9" ry="7.3" fill="#6a707c" stroke="#1e1f24" stroke-width="0.8"/><path d="M120.9,370.8 A9.4,5.8 0 0 1 139.6,370.8" fill="none" stroke="#a0a6b0" stroke-width="1.2" opacity="0.7"/><ellipse cx="130.3" cy="371.4" rx="5.7" ry="3.3" fill="#1d1e23"/></g>
<g transform="rotate(-25 140.3 355.6)"><ellipse cx="140.3" cy="355.6" rx="8.6" ry="6.8" fill="#666b76" stroke="#1e1f24" stroke-width="0.8"/><path d="M133.1,355.6 A7.1,5.3 0 0 1 147.4,355.6" fill="none" stroke="#a0a6b0" stroke-width="1.2" opacity="0.7"/><ellipse cx="140.3" cy="356.2" rx="4.5" ry="3.1" fill="#1d1e23"/></g>
<g transform="rotate(16 154.1 402.4)"><ellipse cx="154.1" cy="402.4" rx="9.6" ry="7" fill="#7d838e" stroke="#1e1f24" stroke-width="0.8"/><path d="M146,402.4 A8.1,5.5 0 0 1 162.2,402.4" fill="none" stroke="#a0a6b0" stroke-width="1.2" opacity="0.7"/><ellipse cx="154.1" cy="403" rx="5" ry="3.1" fill="#1d1e23"/></g>
<g transform="rotate(22 101.4 366.7)"><ellipse cx="101.4" cy="366.7" rx="10.8" ry="6.2" fill="#666b76" stroke="#1e1f24" stroke-width="0.8"/><path d="M92.1,366.7 A9.3,4.7 0 0 1 110.6,366.7" fill="none" stroke="#a0a6b0" stroke-width="1.2" opacity="0.7"/><ellipse cx="101.4" cy="367.3" rx="5.6" ry="2.8" fill="#1d1e23"/></g>
<g transform="rotate(-28 109.9 356.9)"><ellipse cx="109.9" cy="356.9" rx="9.7" ry="6.7" fill="#5f6570" stroke="#1e1f24" stroke-width="0.8"/><path d="M101.7,356.9 A8.2,5.2 0 0 1 118.2,356.9" fill="none" stroke="#a0a6b0" stroke-width="1.2" opacity="0.7"/><ellipse cx="109.9" cy="357.5" rx="5.1" ry="3" fill="#1d1e23"/></g>
<g transform="rotate(20 134.8 411.6)"><ellipse cx="134.8" cy="411.6" rx="9.8" ry="6.1" fill="#5f6570" stroke="#1e1f24" stroke-width="0.8"/><path d="M126.6,411.6 A8.3,4.6 0 0 1 143.1,411.6" fill="none" stroke="#a0a6b0" stroke-width="1.2" opacity="0.7"/><ellipse cx="134.8" cy="412.2" rx="5.1" ry="2.8" fill="#1d1e23"/></g>
<g transform="rotate(14 76.5 348.6)"><ellipse cx="76.5" cy="348.6" rx="10.4" ry="6.7" fill="#5f6570" stroke="#1e1f24" stroke-width="0.8"/><path d="M67.6,348.6 A8.9,5.2 0 0 1 85.4,348.6" fill="none" stroke="#a0a6b0" stroke-width="1.2" opacity="0.7"/><ellipse cx="76.5" cy="349.2" rx="5.4" ry="3" fill="#1d1e23"/></g>
<g transform="rotate(31 81.6 379.3)"><ellipse cx="81.6" cy="379.3" rx="11" ry="7.4" fill="#5f6570" stroke="#1e1f24" stroke-width="0.8"/><path d="M72.1,379.3 A9.5,5.9 0 0 1 91,379.3" fill="none" stroke="#a0a6b0" stroke-width="1.2" opacity="0.7"/><ellipse cx="81.6" cy="379.9" rx="5.7" ry="3.3" fill="#1d1e23"/></g>
<g transform="rotate(-17 82.4 356.8)"><ellipse cx="82.4" cy="356.8" rx="8.5" ry="7.1" fill="#5f6570" stroke="#1e1f24" stroke-width="0.8"/><path d="M75.4,356.8 A7,5.6 0 0 1 89.4,356.8" fill="none" stroke="#a0a6b0" stroke-width="1.2" opacity="0.7"/><ellipse cx="82.4" cy="357.4" rx="4.4" ry="3.2" fill="#1d1e23"/></g>
<g transform="rotate(-10 96.6 359.1)"><ellipse cx="96.6" cy="359.1" rx="10.1" ry="7.6" fill="#5f6570" stroke="#1e1f24" stroke-width="0.8"/><path d="M88,359.1 A8.6,6.1 0 0 1 105.2,359.1" fill="none" stroke="#a0a6b0" stroke-width="1.2" opacity="0.7"/><ellipse cx="96.6" cy="359.7" rx="5.3" ry="3.4" fill="#1d1e23"/></g>
<g transform="rotate(25 135.2 388.5)"><ellipse cx="135.2" cy="388.5" rx="9.4" ry="7.7" fill="#7d838e" stroke="#1e1f24" stroke-width="0.8"/><path d="M127.3,388.5 A7.9,6.2 0 0 1 143.1,388.5" fill="none" stroke="#a0a6b0" stroke-width="1.2" opacity="0.7"/><ellipse cx="135.2" cy="389.1" rx="4.9" ry="3.5" fill="#1d1e23"/></g>
<g transform="rotate(-23 107.8 390.7)"><ellipse cx="107.8" cy="390.7" rx="9.8" ry="7.1" fill="#5f6570" stroke="#1e1f24" stroke-width="0.8"/><path d="M99.5,390.7 A8.3,5.6 0 0 1 116.1,390.7" fill="none" stroke="#a0a6b0" stroke-width="1.2" opacity="0.7"/><ellipse cx="107.8" cy="391.3" rx="5.1" ry="3.2" fill="#1d1e23"/></g>
<g transform="rotate(16 73.8 389.6)"><ellipse cx="73.8" cy="389.6" rx="10.2" ry="7.4" fill="#737985" stroke="#1e1f24" stroke-width="0.8"/><path d="M65,389.6 A8.7,5.9 0 0 1 82.5,389.6" fill="none" stroke="#a0a6b0" stroke-width="1.2" opacity="0.7"/><ellipse cx="73.8" cy="390.2" rx="5.3" ry="3.3" fill="#1d1e23"/></g>
<g transform="rotate(-13 156.8 357.8)"><ellipse cx="156.8" cy="357.8" rx="9.8" ry="7.9" fill="#666b76" stroke="#1e1f24" stroke-width="0.8"/><path d="M148.5,357.8 A8.3,6.4 0 0 1 165,357.8" fill="none" stroke="#a0a6b0" stroke-width="1.2" opacity="0.7"/><ellipse cx="156.8" cy="358.4" rx="5.1" ry="3.5" fill="#1d1e23"/></g>
<g transform="rotate(-23 116.8 347.4)"><ellipse cx="116.8" cy="347.4" rx="10.3" ry="6.1" fill="#7d838e" stroke="#1e1f24" stroke-width="0.8"/><path d="M108,347.4 A8.8,4.6 0 0 1 125.6,347.4" fill="none" stroke="#a0a6b0" stroke-width="1.2" opacity="0.7"/><ellipse cx="116.8" cy="348" rx="5.4" ry="2.7" fill="#1d1e23"/></g>
<g transform="rotate(15 104.6 409.8)"><ellipse cx="104.6" cy="409.8" rx="10.4" ry="6.4" fill="#7d838e" stroke="#1e1f24" stroke-width="0.8"/><path d="M95.7,409.8 A8.9,4.9 0 0 1 113.5,409.8" fill="none" stroke="#a0a6b0" stroke-width="1.2" opacity="0.7"/><ellipse cx="104.6" cy="410.4" rx="5.4" ry="2.9" fill="#1d1e23"/></g>
<g transform="rotate(32 77.6 365.2)"><ellipse cx="77.6" cy="365.2" rx="10.7" ry="6.2" fill="#7d838e" stroke="#1e1f24" stroke-width="0.8"/><path d="M68.4,365.2 A9.2,4.7 0 0 1 86.9,365.2" fill="none" stroke="#a0a6b0" stroke-width="1.2" opacity="0.7"/><ellipse cx="77.6" cy="365.8" rx="5.6" ry="2.8" fill="#1d1e23"/></g>
<g transform="rotate(7 136.9 399.5)"><ellipse cx="136.9" cy="399.5" rx="9.7" ry="6.8" fill="#666b76" stroke="#1e1f24" stroke-width="0.8"/><path d="M128.7,399.5 A8.2,5.3 0 0 1 145,399.5" fill="none" stroke="#a0a6b0" stroke-width="1.2" opacity="0.7"/><ellipse cx="136.9" cy="400.1" rx="5" ry="3" fill="#1d1e23"/></g>
<g transform="rotate(31 116.2 389.8)"><ellipse cx="116.2" cy="389.8" rx="9.4" ry="6.7" fill="#7d838e" stroke="#1e1f24" stroke-width="0.8"/><path d="M108.3,389.8 A7.9,5.2 0 0 1 124.1,389.8" fill="none" stroke="#a0a6b0" stroke-width="1.2" opacity="0.7"/><ellipse cx="116.2" cy="390.4" rx="4.9" ry="3" fill="#1d1e23"/></g>
<g transform="rotate(3 92.7 349.5)"><ellipse cx="92.7" cy="349.5" rx="9.9" ry="7.9" fill="#5f6570" stroke="#1e1f24" stroke-width="0.8"/><path d="M84.4,349.5 A8.4,6.4 0 0 1 101.1,349.5" fill="none" stroke="#a0a6b0" stroke-width="1.2" opacity="0.7"/><ellipse cx="92.7" cy="350.1" rx="5.1" ry="3.6" fill="#1d1e23"/></g>
<g transform="rotate(32 148.7 387.3)"><ellipse cx="148.7" cy="387.3" rx="9.3" ry="7.2" fill="#737985" stroke="#1e1f24" stroke-width="0.8"/><path d="M140.9,387.3 A7.8,5.7 0 0 1 156.6,387.3" fill="none" stroke="#a0a6b0" stroke-width="1.2" opacity="0.7"/><ellipse cx="148.7" cy="387.9" rx="4.9" ry="3.2" fill="#1d1e23"/></g>
<g transform="rotate(-25 121.1 370.7)"><ellipse cx="121.1" cy="370.7" rx="10.1" ry="6.7" fill="#666b76" stroke="#1e1f24" stroke-width="0.8"/><path d="M112.5,370.7 A8.6,5.2 0 0 1 129.7,370.7" fill="none" stroke="#a0a6b0" stroke-width="1.2" opacity="0.7"/><ellipse cx="121.1" cy="371.3" rx="5.3" ry="3" fill="#1d1e23"/></g>
<g transform="rotate(-28 83 400.8)"><ellipse cx="83" cy="400.8" rx="9" ry="6.3" fill="#6a707c" stroke="#1e1f24" stroke-width="0.8"/><path d="M75.5,400.8 A7.5,4.8 0 0 1 90.5,400.8" fill="none" stroke="#a0a6b0" stroke-width="1.2" opacity="0.7"/><ellipse cx="83" cy="401.4" rx="4.7" ry="2.8" fill="#1d1e23"/></g>
<g transform="rotate(-12 137.4 376.1)"><ellipse cx="137.4" cy="376.1" rx="10.8" ry="7.1" fill="#666b76" stroke="#1e1f24" stroke-width="0.8"/><path d="M128.1,376.1 A9.3,5.6 0 0 1 146.7,376.1" fill="none" stroke="#a0a6b0" stroke-width="1.2" opacity="0.7"/><ellipse cx="137.4" cy="376.7" rx="5.6" ry="3.2" fill="#1d1e23"/></g>
<g transform="rotate(33 88.1 409.1)"><ellipse cx="88.1" cy="409.1" rx="9.1" ry="6.6" fill="#7d838e" stroke="#1e1f24" stroke-width="0.8"/><path d="M80.5,409.1 A7.6,5.1 0 0 1 95.6,409.1" fill="none" stroke="#a0a6b0" stroke-width="1.2" opacity="0.7"/><ellipse cx="88.1" cy="409.7" rx="4.7" ry="3" fill="#1d1e23"/></g>
<g transform="rotate(16 135.2 349)"><ellipse cx="135.2" cy="349" rx="8.9" ry="7.2" fill="#5f6570" stroke="#1e1f24" stroke-width="0.8"/><path d="M127.8,349 A7.4,5.7 0 0 1 142.6,349" fill="none" stroke="#a0a6b0" stroke-width="1.2" opacity="0.7"/><ellipse cx="135.2" cy="349.6" rx="4.6" ry="3.2" fill="#1d1e23"/></g>
<g transform="rotate(0 93.6 400.3)"><ellipse cx="93.6" cy="400.3" rx="9.3" ry="8" fill="#5f6570" stroke="#1e1f24" stroke-width="0.8"/><path d="M85.8,400.3 A7.8,6.5 0 0 1 101.4,400.3" fill="none" stroke="#a0a6b0" stroke-width="1.2" opacity="0.7"/><ellipse cx="93.6" cy="400.9" rx="4.8" ry="3.6" fill="#1d1e23"/></g>
<g transform="rotate(-17 104 346.8)"><ellipse cx="104" cy="346.8" rx="10.2" ry="7.9" fill="#6a707c" stroke="#1e1f24" stroke-width="0.8"/><path d="M95.4,346.8 A8.7,6.4 0 0 1 112.7,346.8" fill="none" stroke="#a0a6b0" stroke-width="1.2" opacity="0.7"/><ellipse cx="104" cy="347.4" rx="5.3" ry="3.6" fill="#1d1e23"/></g>
<g transform="rotate(-15 89.7 389.5)"><ellipse cx="89.7" cy="389.5" rx="8.5" ry="7.1" fill="#7d838e" stroke="#1e1f24" stroke-width="0.8"/><path d="M82.6,389.5 A7,5.6 0 0 1 96.7,389.5" fill="none" stroke="#a0a6b0" stroke-width="1.2" opacity="0.7"/><ellipse cx="89.7" cy="390.1" rx="4.4" ry="3.2" fill="#1d1e23"/></g>
<g transform="rotate(34 123.7 396.7)"><ellipse cx="123.7" cy="396.7" rx="9.2" ry="6.3" fill="#5f6570" stroke="#1e1f24" stroke-width="0.8"/><path d="M116,396.7 A7.7,4.8 0 0 1 131.4,396.7" fill="none" stroke="#a0a6b0" stroke-width="1.2" opacity="0.7"/><ellipse cx="123.7" cy="397.3" rx="4.8" ry="2.8" fill="#1d1e23"/></g>
<g transform="rotate(26 77.5 413.7)"><ellipse cx="77.5" cy="413.7" rx="9.8" ry="7.7" fill="#6a707c" stroke="#1e1f24" stroke-width="0.8"/><path d="M69.3,413.7 A8.3,6.2 0 0 1 85.8,413.7" fill="none" stroke="#a0a6b0" stroke-width="1.2" opacity="0.7"/><ellipse cx="77.5" cy="414.3" rx="5.1" ry="3.5" fill="#1d1e23"/></g>
<g transform="rotate(7 111.4 376.2)"><ellipse cx="111.4" cy="376.2" rx="9.2" ry="7.4" fill="#666b76" stroke="#1e1f24" stroke-width="0.8"/><path d="M103.7,376.2 A7.7,5.9 0 0 1 119.1,376.2" fill="none" stroke="#a0a6b0" stroke-width="1.2" opacity="0.7"/><ellipse cx="111.4" cy="376.8" rx="4.8" ry="3.3" fill="#1d1e23"/></g>
<g transform="rotate(-25 95.8 379.8)"><ellipse cx="95.8" cy="379.8" rx="10.2" ry="7.6" fill="#6a707c" stroke="#1e1f24" stroke-width="0.8"/><path d="M87,379.8 A8.7,6.1 0 0 1 104.5,379.8" fill="none" stroke="#a0a6b0" stroke-width="1.2" opacity="0.7"/><ellipse cx="95.8" cy="380.4" rx="5.3" ry="3.4" fill="#1d1e23"/></g>
<g transform="rotate(3 143.7 411.6)"><ellipse cx="143.7" cy="411.6" rx="10.8" ry="7.8" fill="#6a707c" stroke="#1e1f24" stroke-width="0.8"/><path d="M134.4,411.6 A9.3,6.3 0 0 1 153,411.6" fill="none" stroke="#a0a6b0" stroke-width="1.2" opacity="0.7"/><ellipse cx="143.7" cy="412.2" rx="5.6" ry="3.5" fill="#1d1e23"/></g>
<g transform="rotate(31 147.5 369.9)"><ellipse cx="147.5" cy="369.9" rx="10" ry="7.4" fill="#7d838e" stroke="#1e1f24" stroke-width="0.8"/><path d="M139,369.9 A8.5,5.9 0 0 1 155.9,369.9" fill="none" stroke="#a0a6b0" stroke-width="1.2" opacity="0.7"/><ellipse cx="147.5" cy="370.5" rx="5.2" ry="3.3" fill="#1d1e23"/></g>
<g transform="rotate(15 117.6 412.4)"><ellipse cx="117.6" cy="412.4" rx="9.7" ry="7.4" fill="#5f6570" stroke="#1e1f24" stroke-width="0.8"/><path d="M109.4,412.4 A8.2,5.9 0 0 1 125.8,412.4" fill="none" stroke="#a0a6b0" stroke-width="1.2" opacity="0.7"/><ellipse cx="117.6" cy="413" rx="5" ry="3.3" fill="#1d1e23"/></g>
<g transform="rotate(19 124 360.2)"><ellipse cx="124" cy="360.2" rx="9.3" ry="6" fill="#666b76" stroke="#1e1f24" stroke-width="0.8"/><path d="M116.3,360.2 A7.8,4.5 0 0 1 131.8,360.2" fill="none" stroke="#a0a6b0" stroke-width="1.2" opacity="0.7"/><ellipse cx="124" cy="360.8" rx="4.8" ry="2.7" fill="#1d1e23"/></g>
<g transform="rotate(-1 152.5 380)"><ellipse cx="152.5" cy="380" rx="10.8" ry="6.3" fill="#666b76" stroke="#1e1f24" stroke-width="0.8"/><path d="M143.2,380 A9.3,4.8 0 0 1 161.7,380" fill="none" stroke="#a0a6b0" stroke-width="1.2" opacity="0.7"/><ellipse cx="152.5" cy="380.6" rx="5.6" ry="2.8" fill="#1d1e23"/></g>
<g transform="rotate(2 111.8 401.7)"><ellipse cx="111.8" cy="401.7" rx="9.8" ry="6.9" fill="#6a707c" stroke="#1e1f24" stroke-width="0.8"/><path d="M103.4,401.7 A8.3,5.4 0 0 1 120.1,401.7" fill="none" stroke="#a0a6b0" stroke-width="1.2" opacity="0.7"/><ellipse cx="111.8" cy="402.3" rx="5.1" ry="3.1" fill="#1d1e23"/></g>
<g transform="rotate(11 122.9 376.1)"><ellipse cx="122.9" cy="376.1" rx="10.5" ry="7.6" fill="#6a707c" stroke="#1e1f24" stroke-width="0.8"/><path d="M113.9,376.1 A9,6.1 0 0 1 132,376.1" fill="none" stroke="#a0a6b0" stroke-width="1.2" opacity="0.7"/><ellipse cx="122.9" cy="376.7" rx="5.5" ry="3.4" fill="#1d1e23"/></g>
<g transform="rotate(0 85.8 369.2)"><ellipse cx="85.8" cy="369.2" rx="8.7" ry="6.8" fill="#6a707c" stroke="#1e1f24" stroke-width="0.8"/><path d="M78.7,369.2 A7.2,5.3 0 0 1 93,369.2" fill="none" stroke="#a0a6b0" stroke-width="1.2" opacity="0.7"/><ellipse cx="85.8" cy="369.8" rx="4.5" ry="3.1" fill="#1d1e23"/></g>
<g transform="rotate(14 151.3 344.3)"><ellipse cx="151.3" cy="344.3" rx="10.1" ry="7.9" fill="#737985" stroke="#1e1f24" stroke-width="0.8"/><path d="M142.7,344.3 A8.6,6.4 0 0 1 159.9,344.3" fill="none" stroke="#a0a6b0" stroke-width="1.2" opacity="0.7"/><ellipse cx="151.3" cy="344.9" rx="5.3" ry="3.6" fill="#1d1e23"/></g>
</g></g>
<g>
<rect x="272.2" y="346.2" width="57.8" height="65.4" fill="#e2e0de"/>
<ellipse cx="328.5" cy="382" rx="3" ry="9" fill="#c4c2c0" opacity="0.5"/>
<path d="M300,350.3 C316,350 326.5,361 326.8,377 C327,394 317,406.8 301,407.3 C285,407.8 274.2,395 274,378 C273.8,362 284,350.6 300,350.3 Z" fill="#151212"/>
<text x="284" y="402.7" font-family="Liberation Serif,serif" font-weight="bold" font-size="17.8" fill="#fff" textLength="27.4" lengthAdjust="spacingAndGlyphs">RC</text>
</g>
<g filter="url(#soft)">
<rect x="386.6" y="46.4" width="291" height="116.4" fill="#0d0c11"/>
<path d="M411.5,121 Q414,91.5 420,63" stroke="#5f8f4a" stroke-width="1.2" fill="none"/>
<path d="M411,121 Q408.9,94.5 404,69" stroke="#5f8f4a" stroke-width="1.2" fill="none"/>
<path d="M404.3,71.6 L396,71" stroke="#5a8a46" stroke-width="0.8" fill="none"/>
<path d="M418.3,74.6 L419,75" stroke="#5a8a46" stroke-width="0.8" fill="none"/>
<path d="M417,83.3 L426,84" stroke="#5a8a46" stroke-width="0.8" fill="none"/>
<path d="M406.8,89.8 L403,89" stroke="#5a8a46" stroke-width="0.8" fill="none"/>
<path d="M407.8,97.6 L410,96" stroke="#5a8a46" stroke-width="0.8" fill="none"/>
<path d="M408.9,105.4 L398,104" stroke="#5a8a46" stroke-width="0.8" fill="none"/>
<path d="M414.5,100.7 L422,100" stroke="#5a8a46" stroke-width="0.8" fill="none"/>
<path d="M409.9,113.2 L405,112" stroke="#5a8a46" stroke-width="0.8" fill="none"/>
<path d="M412.8,112.3 L418,112" stroke="#5a8a46" stroke-width="0.8" fill="none"/>
<ellipse cx="419.1" cy="61.1" rx="3.8" ry="2.3" transform="rotate(212 419.1 61.1)" fill="#6c9d60"/>
<ellipse cx="420.3" cy="63.1" rx="3.6" ry="2.1" transform="rotate(79 420.3 63.1)" fill="#457538"/>
<ellipse cx="420.8" cy="60.9" rx="3.3" ry="2.2" transform="rotate(320 420.8 60.9)" fill="#6c9d60"/>
<ellipse cx="418.8" cy="61.5" rx="3.3" ry="2.2" transform="rotate(192 418.8 61.5)" fill="#3c6733"/>
<ellipse cx="421" cy="62.9" rx="3.4" ry="2.4" transform="rotate(35 421 62.9)" fill="#6c9d60"/>
<ellipse cx="418.2" cy="61.4" rx="3.1" ry="2.2" transform="rotate(208 418.2 61.4)" fill="#6c9d60"/>
<ellipse cx="421.1" cy="64.7" rx="3.6" ry="2.2" transform="rotate(78 421.1 64.7)" fill="#3c6733"/>
<ellipse cx="394.3" cy="72.4" rx="3.3" ry="2.3" transform="rotate(109 394.3 72.4)" fill="#5e9052"/>
<ellipse cx="390.4" cy="70.4" rx="4" ry="2.4" transform="rotate(213 390.4 70.4)" fill="#457538"/>
<ellipse cx="393.8" cy="70.9" rx="3.5" ry="2.6" transform="rotate(180 393.8 70.9)" fill="#568a4a"/>
<ellipse cx="399.7" cy="72.4" rx="4.1" ry="2.9" transform="rotate(19 399.7 72.4)" fill="#5e9052"/>
<ellipse cx="392.5" cy="69.3" rx="3.6" ry="2.6" transform="rotate(236 392.5 69.3)" fill="#3c6733"/>
<ellipse cx="395.4" cy="69.9" rx="4" ry="2.5" transform="rotate(254 395.4 69.9)" fill="#568a4a"/>
<ellipse cx="397.2" cy="69.2" rx="3.5" ry="2.4" transform="rotate(272 397.2 69.2)" fill="#3c6733"/>
<ellipse cx="393.3" cy="73.4" rx="3.7" ry="2.2" transform="rotate(117 393.3 73.4)" fill="#568a4a"/>
<ellipse cx="396" cy="73.3" rx="4.2" ry="2.4" transform="rotate(86 396 73.3)" fill="#6c9d60"/>
<ellipse cx="395.6" cy="72.4" rx="3.6" ry="2.4" transform="rotate(110 395.6 72.4)" fill="#5e9052"/>
<ellipse cx="403.2" cy="66.8" rx="2.8" ry="1.6" transform="rotate(228 403.2 66.8)" fill="#568a4a"/>
<ellipse cx="404.2" cy="69.5" rx="3.3" ry="2" transform="rotate(59 404.2 69.5)" fill="#3c6733"/>
<ellipse cx="401.6" cy="67.6" rx="2.9" ry="1.7" transform="rotate(210 401.6 67.6)" fill="#6c9d60"/>
<ellipse cx="402.4" cy="66.3" rx="3.1" ry="2.2" transform="rotate(258 402.4 66.3)" fill="#568a4a"/>
<ellipse cx="404.6" cy="66.7" rx="3" ry="1.7" transform="rotate(293 404.6 66.7)" fill="#457538"/>
<ellipse cx="420.3" cy="77.3" rx="3.1" ry="1.8" transform="rotate(73 420.3 77.3)" fill="#457538"/>
<ellipse cx="420.2" cy="75" rx="2.7" ry="1.7" transform="rotate(-23 420.2 75)" fill="#78a86b"/>
<ellipse cx="419.5" cy="76.3" rx="3.3" ry="2.4" transform="rotate(79 419.5 76.3)" fill="#3c6733"/>
<ellipse cx="421.3" cy="76.6" rx="3.7" ry="2.4" transform="rotate(43 421.3 76.6)" fill="#457538"/>
<ellipse cx="420.8" cy="76.6" rx="3.4" ry="2.2" transform="rotate(61 420.8 76.6)" fill="#6c9d60"/>
<ellipse cx="429.4" cy="84.4" rx="3.2" ry="1.8" transform="rotate(10 429.4 84.4)" fill="#457538"/>
<ellipse cx="426.1" cy="82.9" rx="3.3" ry="1.9" transform="rotate(290 426.1 82.9)" fill="#6c9d60"/>
<ellipse cx="425.2" cy="84.7" rx="3.5" ry="2.3" transform="rotate(145 425.2 84.7)" fill="#5e9052"/>
<ellipse cx="424.4" cy="82.7" rx="3.5" ry="2.4" transform="rotate(213 424.4 82.7)" fill="#518345"/>
<ellipse cx="427.2" cy="82.2" rx="2.8" ry="1.8" transform="rotate(287 427.2 82.2)" fill="#457538"/>
<ellipse cx="406.8" cy="88.8" rx="3.7" ry="2.2" transform="rotate(361 406.8 88.8)" fill="#5e9052"/>
<ellipse cx="399" cy="90" rx="4.4" ry="3.2" transform="rotate(154 399 90)" fill="#518345"/>
<ellipse cx="405.1" cy="90.1" rx="3.5" ry="2.2" transform="rotate(61 405.1 90.1)" fill="#6c9d60"/>
<ellipse cx="404.4" cy="87.4" rx="3.9" ry="2.8" transform="rotate(281 404.4 87.4)" fill="#568a4a"/>
<ellipse cx="404.7" cy="90.1" rx="4" ry="2.4" transform="rotate(62 404.7 90.1)" fill="#3c6733"/>
<ellipse cx="403.5" cy="87.5" rx="4.1" ry="3.1" transform="rotate(278 403.5 87.5)" fill="#3c6733"/>
<ellipse cx="402.9" cy="88.1" rx="3.2" ry="2.4" transform="rotate(243 402.9 88.1)" fill="#6c9d60"/>
<ellipse cx="412.5" cy="94.8" rx="2.7" ry="1.9" transform="rotate(349 412.5 94.8)" fill="#568a4a"/>
<ellipse cx="411.1" cy="95.7" rx="3.2" ry="1.8" transform="rotate(352 411.1 95.7)" fill="#568a4a"/>
<ellipse cx="408.7" cy="94.7" rx="3.7" ry="2.3" transform="rotate(252 408.7 94.7)" fill="#78a86b"/>
<ellipse cx="410.6" cy="95.6" rx="2.8" ry="1.8" transform="rotate(327 410.6 95.6)" fill="#5e9052"/>
<ellipse cx="409.9" cy="97.4" rx="2.7" ry="2" transform="rotate(86 409.9 97.4)" fill="#3c6733"/>
<ellipse cx="396.4" cy="102.2" rx="3.2" ry="2.3" transform="rotate(257 396.4 102.2)" fill="#518345"/>
<ellipse cx="395.8" cy="103.7" rx="2.6" ry="1.6" transform="rotate(175 395.8 103.7)" fill="#457538"/>
<ellipse cx="398.2" cy="103.2" rx="2.7" ry="1.8" transform="rotate(260 398.2 103.2)" fill="#457538"/>
<ellipse cx="397" cy="105.4" rx="3.2" ry="2.3" transform="rotate(97 397 105.4)" fill="#6c9d60"/>
<ellipse cx="399.3" cy="104.3" rx="2.6" ry="1.5" transform="rotate(18 399.3 104.3)" fill="#457538"/>
<ellipse cx="422.2" cy="97.7" rx="3.1" ry="2.1" transform="rotate(273 422.2 97.7)" fill="#6c9d60"/>
<ellipse cx="422.5" cy="101" rx="3.2" ry="2.2" transform="rotate(72 422.5 101)" fill="#518345"/>
<ellipse cx="421" cy="97.8" rx="3.7" ry="2.2" transform="rotate(254 421 97.8)" fill="#518345"/>
<ellipse cx="422.6" cy="99.3" rx="2.7" ry="1.7" transform="rotate(281 422.6 99.3)" fill="#518345"/>
<ellipse cx="420.7" cy="100.4" rx="2.9" ry="1.7" transform="rotate(168 420.7 100.4)" fill="#568a4a"/>
<ellipse cx="404.2" cy="111.2" rx="2.9" ry="1.6" transform="rotate(230 404.2 111.2)" fill="#568a4a"/>
<ellipse cx="406.4" cy="111.7" rx="3.1" ry="2.3" transform="rotate(359 406.4 111.7)" fill="#518345"/>
<ellipse cx="404.3" cy="110.2" rx="3" ry="1.9" transform="rotate(247 404.3 110.2)" fill="#457538"/>
<ellipse cx="404.9" cy="111.6" rx="3.2" ry="2" transform="rotate(235 404.9 111.6)" fill="#5e9052"/>
<ellipse cx="403.8" cy="111.9" rx="3.7" ry="2.1" transform="rotate(207 403.8 111.9)" fill="#518345"/>
<ellipse cx="418.8" cy="111.9" rx="2.9" ry="1.6" transform="rotate(363 418.8 111.9)" fill="#5e9052"/>
<ellipse cx="418.1" cy="110.4" rx="3.6" ry="2.4" transform="rotate(294 418.1 110.4)" fill="#3c6733"/>
<ellipse cx="419.5" cy="113.4" rx="3.2" ry="2.2" transform="rotate(33 419.5 113.4)" fill="#457538"/>
<ellipse cx="418.3" cy="111.3" rx="3.6" ry="2.2" transform="rotate(263 418.3 111.3)" fill="#457538"/>
<ellipse cx="418.2" cy="111.5" rx="3.6" ry="2" transform="rotate(306 418.2 111.5)" fill="#3c6733"/>
<path d="M460.5,121 Q462.2,86 466,52" stroke="#5f8f4a" stroke-width="1.2" fill="none"/>
<path d="M463.5,121 Q469.6,93.5 484,67" stroke="#5f8f4a" stroke-width="1.2" fill="none"/>
<path d="M461.8,121 Q455.8,96.5 442,73" stroke="#5f8f4a" stroke-width="1.2" fill="none"/>
<path d="M465.2,62.4 L468,60" stroke="#5a8a46" stroke-width="0.8" fill="none"/>
<path d="M446,82.6 L437,83" stroke="#5a8a46" stroke-width="0.8" fill="none"/>
<path d="M464.1,76.2 L460,74" stroke="#5a8a46" stroke-width="0.8" fill="none"/>
<path d="M479.9,77.8 L476,77" stroke="#5a8a46" stroke-width="0.8" fill="none"/>
<path d="M449.9,92.2 L452,90" stroke="#5a8a46" stroke-width="0.8" fill="none"/>
<path d="M473.7,94 L472,92" stroke="#5a8a46" stroke-width="0.8" fill="none"/>
<path d="M455.8,106.6 L444,106" stroke="#5a8a46" stroke-width="0.8" fill="none"/>
<path d="M467.6,110.2 L476,110" stroke="#5a8a46" stroke-width="0.8" fill="none"/>
<path d="M461.9,103.8 L460,102" stroke="#5a8a46" stroke-width="0.8" fill="none"/>
<path d="M465.5,115.6 L468,114" stroke="#5a8a46" stroke-width="0.8" fill="none"/>
<ellipse cx="468.2" cy="50.1" rx="2.6" ry="1.8" transform="rotate(351 468.2 50.1)" fill="#518345"/>
<ellipse cx="465.9" cy="51.9" rx="3.7" ry="2.5" transform="rotate(95 465.9 51.9)" fill="#518345"/>
<ellipse cx="465.5" cy="52.5" rx="2.8" ry="1.7" transform="rotate(80 465.5 52.5)" fill="#5e9052"/>
<ellipse cx="466.8" cy="51.1" rx="3.2" ry="2.3" transform="rotate(14 466.8 51.1)" fill="#518345"/>
<ellipse cx="467" cy="50.7" rx="3.5" ry="2.2" transform="rotate(336 467 50.7)" fill="#78a86b"/>
<ellipse cx="473.4" cy="56.8" rx="3.4" ry="2" transform="rotate(306 473.4 56.8)" fill="#518345"/>
<ellipse cx="470.7" cy="56.6" rx="3.9" ry="2.5" transform="rotate(292 470.7 56.6)" fill="#457538"/>
<ellipse cx="468.9" cy="59" rx="3.9" ry="2.8" transform="rotate(297 468.9 59)" fill="#457538"/>
<ellipse cx="473.4" cy="62.2" rx="4.2" ry="2.9" transform="rotate(19 473.4 62.2)" fill="#518345"/>
<ellipse cx="467.3" cy="58.8" rx="3.3" ry="2" transform="rotate(224 467.3 58.8)" fill="#5e9052"/>
<ellipse cx="474.8" cy="58.8" rx="3.8" ry="2.3" transform="rotate(369 474.8 58.8)" fill="#5e9052"/>
<ellipse cx="468.5" cy="61.8" rx="3.5" ry="2" transform="rotate(67 468.5 61.8)" fill="#568a4a"/>
<ellipse cx="469.3" cy="63" rx="3" ry="1.8" transform="rotate(51 469.3 63)" fill="#3c6733"/>
<ellipse cx="464.7" cy="58.6" rx="3.4" ry="2.3" transform="rotate(190 464.7 58.6)" fill="#6c9d60"/>
<ellipse cx="469.5" cy="58.6" rx="4.2" ry="3" transform="rotate(311 469.5 58.6)" fill="#78a86b"/>
<ellipse cx="481.5" cy="69.3" rx="3.2" ry="2.2" transform="rotate(124 481.5 69.3)" fill="#457538"/>
<ellipse cx="485.9" cy="63.4" rx="3.7" ry="2.4" transform="rotate(307 485.9 63.4)" fill="#6c9d60"/>
<ellipse cx="486.2" cy="67.8" rx="3.7" ry="2.7" transform="rotate(65 486.2 67.8)" fill="#78a86b"/>
<ellipse cx="482.2" cy="63.1" rx="4" ry="3" transform="rotate(254 482.2 63.1)" fill="#457538"/>
<ellipse cx="485.7" cy="66.2" rx="3.5" ry="2" transform="rotate(28 485.7 66.2)" fill="#6c9d60"/>
<ellipse cx="485.2" cy="66.3" rx="3.7" ry="2.2" transform="rotate(6 485.2 66.3)" fill="#3c6733"/>
<ellipse cx="485.3" cy="63.1" rx="3.7" ry="2.4" transform="rotate(295 485.3 63.1)" fill="#457538"/>
<ellipse cx="441.9" cy="69.4" rx="4.1" ry="3" transform="rotate(255 441.9 69.4)" fill="#78a86b"/>
<ellipse cx="443.4" cy="75.4" rx="4.4" ry="2.8" transform="rotate(68 443.4 75.4)" fill="#3c6733"/>
<ellipse cx="444.4" cy="71" rx="3.1" ry="2.1" transform="rotate(312 444.4 71)" fill="#6c9d60"/>
<ellipse cx="443.6" cy="73.5" rx="4" ry="2.5" transform="rotate(56 443.6 73.5)" fill="#457538"/>
<ellipse cx="438.2" cy="72.3" rx="4.4" ry="2.5" transform="rotate(159 438.2 72.3)" fill="#3c6733"/>
<ellipse cx="441" cy="74.7" rx="3.7" ry="2.3" transform="rotate(85 441 74.7)" fill="#6c9d60"/>
<ellipse cx="443.9" cy="76.1" rx="4.3" ry="2.4" transform="rotate(69 443.9 76.1)" fill="#78a86b"/>
<ellipse cx="435.7" cy="71.8" rx="4.4" ry="2.8" transform="rotate(203 435.7 71.8)" fill="#518345"/>
<ellipse cx="443.6" cy="72.6" rx="4" ry="2.4" transform="rotate(19 443.6 72.6)" fill="#6c9d60"/>
<ellipse cx="443.7" cy="69.5" rx="4.2" ry="2.9" transform="rotate(281 443.7 69.5)" fill="#3c6733"/>
<ellipse cx="436" cy="83.5" rx="3.7" ry="2.5" transform="rotate(137 436 83.5)" fill="#568a4a"/>
<ellipse cx="438.1" cy="84" rx="2.9" ry="2.1" transform="rotate(25 438.1 84)" fill="#78a86b"/>
<ellipse cx="436" cy="84.1" rx="3.7" ry="2.2" transform="rotate(97 436 84.1)" fill="#568a4a"/>
<ellipse cx="436.5" cy="84.2" rx="3" ry="2.3" transform="rotate(108 436.5 84.2)" fill="#5e9052"/>
<ellipse cx="439.6" cy="82.1" rx="3.6" ry="2.2" transform="rotate(310 439.6 82.1)" fill="#568a4a"/>
<ellipse cx="459.1" cy="76.9" rx="3.3" ry="2" transform="rotate(103 459.1 76.9)" fill="#518345"/>
<ellipse cx="460.5" cy="71.4" rx="3.6" ry="2" transform="rotate(291 460.5 71.4)" fill="#3c6733"/>
<ellipse cx="463.7" cy="72.4" rx="3.8" ry="2.6" transform="rotate(306 463.7 72.4)" fill="#568a4a"/>
<ellipse cx="457.3" cy="75.2" rx="3.2" ry="2.3" transform="rotate(147 457.3 75.2)" fill="#6c9d60"/>
<ellipse cx="461.8" cy="75.3" rx="3.5" ry="2.1" transform="rotate(57 461.8 75.3)" fill="#568a4a"/>
<ellipse cx="459.8" cy="76.3" rx="3.4" ry="2.3" transform="rotate(88 459.8 76.3)" fill="#518345"/>
<ellipse cx="459.2" cy="73.3" rx="3.7" ry="2.6" transform="rotate(234 459.2 73.3)" fill="#3c6733"/>
<ellipse cx="479.7" cy="75.3" rx="3.6" ry="2.1" transform="rotate(310 479.7 75.3)" fill="#457538"/>
<ellipse cx="477.3" cy="78.8" rx="3.4" ry="2.1" transform="rotate(78 477.3 78.8)" fill="#518345"/>
<ellipse cx="478.8" cy="75.3" rx="3.6" ry="2.3" transform="rotate(320 478.8 75.3)" fill="#3c6733"/>
<ellipse cx="475.5" cy="79.5" rx="3.7" ry="2.5" transform="rotate(90 475.5 79.5)" fill="#568a4a"/>
<ellipse cx="472.8" cy="77" rx="4.2" ry="2.5" transform="rotate(169 472.8 77)" fill="#518345"/>
<ellipse cx="473.6" cy="78.5" rx="3.6" ry="2.2" transform="rotate(154 473.6 78.5)" fill="#457538"/>
<ellipse cx="477.7" cy="78.2" rx="4.1" ry="2.9" transform="rotate(69 477.7 78.2)" fill="#3c6733"/>
<ellipse cx="454.4" cy="90" rx="4.3" ry="3.1" transform="rotate(17 454.4 90)" fill="#3c6733"/>
<ellipse cx="452" cy="91" rx="3.2" ry="2.1" transform="rotate(98 452 91)" fill="#78a86b"/>
<ellipse cx="451.4" cy="87.7" rx="4.1" ry="2.6" transform="rotate(262 451.4 87.7)" fill="#457538"/>
<ellipse cx="453.4" cy="90" rx="3.8" ry="2.1" transform="rotate(11 453.4 90)" fill="#518345"/>
<ellipse cx="450" cy="88.6" rx="3.6" ry="2.5" transform="rotate(205 450 88.6)" fill="#5e9052"/>
<ellipse cx="449" cy="89.7" rx="3.5" ry="2.1" transform="rotate(193 449 89.7)" fill="#457538"/>
<ellipse cx="447.6" cy="89.3" rx="3.4" ry="2.1" transform="rotate(210 447.6 89.3)" fill="#518345"/>
<ellipse cx="470.2" cy="92.2" rx="3.3" ry="2.5" transform="rotate(181 470.2 92.2)" fill="#5e9052"/>
<ellipse cx="473.6" cy="92.4" rx="4.2" ry="2.9" transform="rotate(-1 473.6 92.4)" fill="#518345"/>
<ellipse cx="469.9" cy="89.4" rx="3.3" ry="1.8" transform="rotate(232 469.9 89.4)" fill="#3c6733"/>
<ellipse cx="470.5" cy="93.3" rx="3" ry="1.8" transform="rotate(147 470.5 93.3)" fill="#457538"/>
<ellipse cx="473.2" cy="95" rx="3.4" ry="2.5" transform="rotate(60 473.2 95)" fill="#518345"/>
<ellipse cx="471.6" cy="94.9" rx="3.2" ry="2.1" transform="rotate(100 471.6 94.9)" fill="#518345"/>
<ellipse cx="467.8" cy="92.3" rx="3.1" ry="2.1" transform="rotate(195 467.8 92.3)" fill="#457538"/>
<ellipse cx="444.8" cy="108.4" rx="2.7" ry="1.5" transform="rotate(54 444.8 108.4)" fill="#3c6733"/>
<ellipse cx="441.3" cy="106.6" rx="2.9" ry="1.7" transform="rotate(140 441.3 106.6)" fill="#518345"/>
<ellipse cx="443.4" cy="106.8" rx="3.7" ry="2.6" transform="rotate(95 443.4 106.8)" fill="#568a4a"/>
<ellipse cx="443.5" cy="103.8" rx="3.7" ry="2.4" transform="rotate(241 443.5 103.8)" fill="#457538"/>
<ellipse cx="443.7" cy="107.2" rx="3.7" ry="2.1" transform="rotate(123 443.7 107.2)" fill="#518345"/>
<ellipse cx="473.8" cy="111.4" rx="2.9" ry="2.1" transform="rotate(116 473.8 111.4)" fill="#568a4a"/>
<ellipse cx="474.2" cy="110.2" rx="3.6" ry="2.1" transform="rotate(163 474.2 110.2)" fill="#3c6733"/>
<ellipse cx="477.9" cy="110.3" rx="3.5" ry="2.5" transform="rotate(-12 477.9 110.3)" fill="#457538"/>
<ellipse cx="473" cy="110.5" rx="2.6" ry="1.5" transform="rotate(145 473 110.5)" fill="#6c9d60"/>
<ellipse cx="475.2" cy="110.9" rx="3.7" ry="2.5" transform="rotate(110 475.2 110.9)" fill="#568a4a"/>
<ellipse cx="458.7" cy="99.8" rx="2.9" ry="2" transform="rotate(253 458.7 99.8)" fill="#78a86b"/>
<ellipse cx="457.7" cy="100.2" rx="2.6" ry="1.5" transform="rotate(226 457.7 100.2)" fill="#3c6733"/>
<ellipse cx="461.8" cy="101.6" rx="2.8" ry="1.8" transform="rotate(343 461.8 101.6)" fill="#3c6733"/>
<ellipse cx="461.2" cy="103.9" rx="3.4" ry="2.5" transform="rotate(79 461.2 103.9)" fill="#6c9d60"/>
<ellipse cx="460.3" cy="104.2" rx="3.1" ry="2.2" transform="rotate(89 460.3 104.2)" fill="#6c9d60"/>
<ellipse cx="468.7" cy="115.4" rx="2.8" ry="1.6" transform="rotate(47 468.7 115.4)" fill="#6c9d60"/>
<ellipse cx="467.1" cy="113.8" rx="3.1" ry="1.7" transform="rotate(174 467.1 113.8)" fill="#6c9d60"/>
<ellipse cx="468.7" cy="114.3" rx="3.1" ry="2.2" transform="rotate(27 468.7 114.3)" fill="#518345"/>
<ellipse cx="469.1" cy="114.8" rx="3.6" ry="2.2" transform="rotate(49 469.1 114.8)" fill="#78a86b"/>
<ellipse cx="467.6" cy="113.5" rx="3.6" ry="2.2" transform="rotate(242 467.6 113.5)" fill="#5e9052"/>
<path d="M511.3,121 Q513.6,95.5 519,71" stroke="#5f8f4a" stroke-width="1.2" fill="none"/>
<path d="M518.2,76 L508,74" stroke="#5a8a46" stroke-width="0.8" fill="none"/>
<path d="M516.3,88.5 L505,88" stroke="#5a8a46" stroke-width="0.8" fill="none"/>
<path d="M515.9,91 L525,92" stroke="#5a8a46" stroke-width="0.8" fill="none"/>
<path d="M514,103.5 L501,101" stroke="#5a8a46" stroke-width="0.8" fill="none"/>
<path d="M513.2,108.5 L503,108" stroke="#5a8a46" stroke-width="0.8" fill="none"/>
<path d="M514,103.5 L521,104" stroke="#5a8a46" stroke-width="0.8" fill="none"/>
<path d="M512.8,111 L524,112" stroke="#5a8a46" stroke-width="0.8" fill="none"/>
<path d="M511.6,118.5 L510,117" stroke="#5a8a46" stroke-width="0.8" fill="none"/>
<ellipse cx="507.8" cy="76.1" rx="3.3" ry="1.9" transform="rotate(82 507.8 76.1)" fill="#6c9d60"/>
<ellipse cx="508.6" cy="75" rx="3.4" ry="2" transform="rotate(69 508.6 75)" fill="#568a4a"/>
<ellipse cx="509.4" cy="71.4" rx="4.4" ry="2.5" transform="rotate(289 509.4 71.4)" fill="#78a86b"/>
<ellipse cx="508.4" cy="76.1" rx="3.5" ry="2.6" transform="rotate(69 508.4 76.1)" fill="#457538"/>
<ellipse cx="510" cy="77.4" rx="3.8" ry="2.8" transform="rotate(61 510 77.4)" fill="#78a86b"/>
<ellipse cx="509.6" cy="76.3" rx="4.1" ry="2.8" transform="rotate(39 509.6 76.3)" fill="#568a4a"/>
<ellipse cx="504.9" cy="72.5" rx="3.3" ry="2.1" transform="rotate(196 504.9 72.5)" fill="#518345"/>
<ellipse cx="519.9" cy="70" rx="3.4" ry="2.5" transform="rotate(375 519.9 70)" fill="#78a86b"/>
<ellipse cx="517.7" cy="71.7" rx="2.8" ry="1.7" transform="rotate(102 517.7 71.7)" fill="#78a86b"/>
<ellipse cx="516.8" cy="70" rx="3" ry="2.2" transform="rotate(186 516.8 70)" fill="#518345"/>
<ellipse cx="518.3" cy="69.4" rx="2.7" ry="1.9" transform="rotate(225 518.3 69.4)" fill="#5e9052"/>
<ellipse cx="518" cy="68.8" rx="2.6" ry="1.8" transform="rotate(259 518 68.8)" fill="#3c6733"/>
<ellipse cx="502.2" cy="89.1" rx="3.7" ry="2.3" transform="rotate(134 502.2 89.1)" fill="#568a4a"/>
<ellipse cx="502.2" cy="89.4" rx="3.1" ry="1.8" transform="rotate(126 502.2 89.4)" fill="#457538"/>
<ellipse cx="502.3" cy="89.3" rx="3.1" ry="1.8" transform="rotate(121 502.3 89.3)" fill="#6c9d60"/>
<ellipse cx="506.9" cy="89.7" rx="3" ry="2" transform="rotate(72 506.9 89.7)" fill="#568a4a"/>
<ellipse cx="503.8" cy="88" rx="2.9" ry="1.9" transform="rotate(202 503.8 88)" fill="#457538"/>
<ellipse cx="522.3" cy="93.7" rx="4.1" ry="2.9" transform="rotate(128 522.3 93.7)" fill="#78a86b"/>
<ellipse cx="529.1" cy="90.9" rx="3.7" ry="2.1" transform="rotate(360 529.1 90.9)" fill="#3c6733"/>
<ellipse cx="528" cy="93.3" rx="4" ry="2.9" transform="rotate(38 528 93.3)" fill="#78a86b"/>
<ellipse cx="525.4" cy="93.7" rx="4.2" ry="3" transform="rotate(64 525.4 93.7)" fill="#518345"/>
<ellipse cx="529.1" cy="92.8" rx="3.2" ry="2" transform="rotate(-2 529.1 92.8)" fill="#568a4a"/>
<ellipse cx="525.7" cy="90.9" rx="4.2" ry="3" transform="rotate(302 525.7 90.9)" fill="#568a4a"/>
<ellipse cx="525.7" cy="91.2" rx="3.8" ry="2.5" transform="rotate(308 525.7 91.2)" fill="#5e9052"/>
<ellipse cx="500.3" cy="100.3" rx="2.8" ry="1.8" transform="rotate(227 500.3 100.3)" fill="#6c9d60"/>
<ellipse cx="500.4" cy="101.2" rx="3.3" ry="2.1" transform="rotate(144 500.4 101.2)" fill="#78a86b"/>
<ellipse cx="499.3" cy="99.9" rx="3.5" ry="2.5" transform="rotate(217 499.3 99.9)" fill="#457538"/>
<ellipse cx="502" cy="101.8" rx="2.7" ry="1.7" transform="rotate(46 502 101.8)" fill="#457538"/>
<ellipse cx="501.8" cy="101.2" rx="3.6" ry="2.2" transform="rotate(25 501.8 101.2)" fill="#457538"/>
<ellipse cx="504.6" cy="108.4" rx="3" ry="2.2" transform="rotate(1 504.6 108.4)" fill="#78a86b"/>
<ellipse cx="504.7" cy="108.5" rx="3.4" ry="1.9" transform="rotate(5 504.7 108.5)" fill="#3c6733"/>
<ellipse cx="502.5" cy="109.6" rx="3.5" ry="2.4" transform="rotate(114 502.5 109.6)" fill="#518345"/>
<ellipse cx="504.2" cy="108.4" rx="3.4" ry="2" transform="rotate(43 504.2 108.4)" fill="#5e9052"/>
<ellipse cx="504.3" cy="107.4" rx="2.9" ry="2.1" transform="rotate(324 504.3 107.4)" fill="#6c9d60"/>
<ellipse cx="520.8" cy="105.5" rx="2.9" ry="1.6" transform="rotate(78 520.8 105.5)" fill="#518345"/>
<ellipse cx="520" cy="103.2" rx="2.9" ry="1.8" transform="rotate(243 520 103.2)" fill="#5e9052"/>
<ellipse cx="522.7" cy="105.1" rx="3.3" ry="2.1" transform="rotate(60 522.7 105.1)" fill="#6c9d60"/>
<ellipse cx="518.3" cy="103.7" rx="3.6" ry="2.2" transform="rotate(189 518.3 103.7)" fill="#78a86b"/>
<ellipse cx="518.6" cy="105.3" rx="2.9" ry="2.1" transform="rotate(145 518.6 105.3)" fill="#5e9052"/>
<ellipse cx="523.6" cy="112.5" rx="2.8" ry="1.9" transform="rotate(141 523.6 112.5)" fill="#5e9052"/>
<ellipse cx="524.5" cy="111.3" rx="3.3" ry="2.5" transform="rotate(299 524.5 111.3)" fill="#568a4a"/>
<ellipse cx="525.7" cy="111.1" rx="3.4" ry="2" transform="rotate(312 525.7 111.1)" fill="#568a4a"/>
<ellipse cx="522.5" cy="112.5" rx="3.6" ry="2.1" transform="rotate(141 522.5 112.5)" fill="#568a4a"/>
<ellipse cx="524.7" cy="112.1" rx="3.2" ry="2" transform="rotate(17 524.7 112.1)" fill="#6c9d60"/>
<ellipse cx="510.3" cy="118.3" rx="3.3" ry="1.9" transform="rotate(86 510.3 118.3)" fill="#3c6733"/>
<ellipse cx="510.3" cy="117.4" rx="3.5" ry="2.4" transform="rotate(54 510.3 117.4)" fill="#457538"/>
<ellipse cx="508.4" cy="115.7" rx="3.5" ry="2.2" transform="rotate(217 508.4 115.7)" fill="#457538"/>
<ellipse cx="512.2" cy="117.6" rx="3.6" ry="2.4" transform="rotate(24 512.2 117.6)" fill="#6c9d60"/>
<ellipse cx="512" cy="116.4" rx="2.8" ry="2.1" transform="rotate(314 512 116.4)" fill="#6c9d60"/>
<path d="M551.6,121 Q554.7,89.5 562,59" stroke="#5f8f4a" stroke-width="1.2" fill="none"/>
<path d="M552.1,121 Q559.8,97 578,74" stroke="#5f8f4a" stroke-width="1.2" fill="none"/>
<path d="M552,121 Q548.7,99.5 541,79" stroke="#5f8f4a" stroke-width="1.2" fill="none"/>
<path d="M559.9,71.4 L564,72" stroke="#5a8a46" stroke-width="0.8" fill="none"/>
<path d="M558.4,80.7 L551,79" stroke="#5a8a46" stroke-width="0.8" fill="none"/>
<path d="M557.3,86.9 L558,86" stroke="#5a8a46" stroke-width="0.8" fill="none"/>
<path d="M567.6,92.8 L566,93" stroke="#5a8a46" stroke-width="0.8" fill="none"/>
<path d="M544.3,91.6 L542,92" stroke="#5a8a46" stroke-width="0.8" fill="none"/>
<path d="M547.6,104.2 L542,104" stroke="#5a8a46" stroke-width="0.8" fill="none"/>
<path d="M554.7,102.4 L557,102" stroke="#5a8a46" stroke-width="0.8" fill="none"/>
<path d="M555.9,114 L554,113" stroke="#5a8a46" stroke-width="0.8" fill="none"/>
<path d="M558.5,109.2 L565,110" stroke="#5a8a46" stroke-width="0.8" fill="none"/>
<ellipse cx="562.7" cy="57.7" rx="3.3" ry="2.2" transform="rotate(313 562.7 57.7)" fill="#3c6733"/>
<ellipse cx="562.6" cy="59.2" rx="3.2" ry="2.1" transform="rotate(87 562.6 59.2)" fill="#518345"/>
<ellipse cx="561.3" cy="58" rx="3.3" ry="2.5" transform="rotate(194 561.3 58)" fill="#3c6733"/>
<ellipse cx="561.9" cy="57.6" rx="3.6" ry="2.5" transform="rotate(255 561.9 57.6)" fill="#568a4a"/>
<ellipse cx="561.5" cy="57.4" rx="3.7" ry="2.3" transform="rotate(243 561.5 57.4)" fill="#457538"/>
<ellipse cx="561.4" cy="75.1" rx="4" ry="2.9" transform="rotate(131 561.4 75.1)" fill="#5e9052"/>
<ellipse cx="560.9" cy="69.5" rx="4" ry="2.9" transform="rotate(252 560.9 69.5)" fill="#5e9052"/>
<ellipse cx="560.2" cy="68.7" rx="3.3" ry="2.4" transform="rotate(206 560.2 68.7)" fill="#5e9052"/>
<ellipse cx="568.6" cy="69.8" rx="3.3" ry="1.9" transform="rotate(346 568.6 69.8)" fill="#518345"/>
<ellipse cx="566.2" cy="70.6" rx="3.3" ry="2.4" transform="rotate(323 566.2 70.6)" fill="#568a4a"/>
<ellipse cx="569.5" cy="71.6" rx="3.8" ry="2.4" transform="rotate(354 569.5 71.6)" fill="#457538"/>
<ellipse cx="566.2" cy="70.1" rx="4" ry="2.7" transform="rotate(299 566.2 70.1)" fill="#518345"/>
<ellipse cx="560.7" cy="73.9" rx="3.8" ry="2.2" transform="rotate(117 560.7 73.9)" fill="#457538"/>
<ellipse cx="568.7" cy="74.6" rx="3.5" ry="2" transform="rotate(14 568.7 74.6)" fill="#457538"/>
<ellipse cx="566.9" cy="74.4" rx="3.1" ry="1.7" transform="rotate(27 566.9 74.4)" fill="#78a86b"/>
<ellipse cx="576.1" cy="72.1" rx="4.1" ry="3" transform="rotate(232 576.1 72.1)" fill="#457538"/>
<ellipse cx="580.7" cy="71.2" rx="4" ry="2.5" transform="rotate(304 580.7 71.2)" fill="#518345"/>
<ellipse cx="578.9" cy="73.5" rx="4.2" ry="3" transform="rotate(47 578.9 73.5)" fill="#78a86b"/>
<ellipse cx="578" cy="70.8" rx="3.7" ry="2.1" transform="rotate(285 578 70.8)" fill="#568a4a"/>
<ellipse cx="578.6" cy="74.4" rx="3.6" ry="2" transform="rotate(61 578.6 74.4)" fill="#5e9052"/>
<ellipse cx="581.5" cy="73.8" rx="4.3" ry="3" transform="rotate(22 581.5 73.8)" fill="#3c6733"/>
<ellipse cx="579.9" cy="71.2" rx="3" ry="1.9" transform="rotate(303 579.9 71.2)" fill="#78a86b"/>
<ellipse cx="542.7" cy="78.9" rx="2.6" ry="1.7" transform="rotate(46 542.7 78.9)" fill="#78a86b"/>
<ellipse cx="543.6" cy="79.2" rx="2.8" ry="1.5" transform="rotate(17 543.6 79.2)" fill="#78a86b"/>
<ellipse cx="541" cy="77.3" rx="3" ry="1.7" transform="rotate(279 541 77.3)" fill="#78a86b"/>
<ellipse cx="541.9" cy="79.4" rx="3" ry="2.1" transform="rotate(54 541.9 79.4)" fill="#518345"/>
<ellipse cx="540.7" cy="79" rx="3.4" ry="2.2" transform="rotate(82 540.7 79)" fill="#568a4a"/>
<ellipse cx="551.2" cy="77.5" rx="3.7" ry="2.5" transform="rotate(256 551.2 77.5)" fill="#5e9052"/>
<ellipse cx="549.8" cy="80.1" rx="3" ry="2.2" transform="rotate(107 549.8 80.1)" fill="#568a4a"/>
<ellipse cx="552.4" cy="79.2" rx="2.9" ry="2.1" transform="rotate(9 552.4 79.2)" fill="#3c6733"/>
<ellipse cx="553.6" cy="78.8" rx="3.7" ry="2.1" transform="rotate(358 553.6 78.8)" fill="#568a4a"/>
<ellipse cx="551" cy="77.2" rx="3" ry="1.8" transform="rotate(253 551 77.2)" fill="#78a86b"/>
<ellipse cx="555.2" cy="86.6" rx="3.5" ry="2.2" transform="rotate(171 555.2 86.6)" fill="#5e9052"/>
<ellipse cx="556.7" cy="85.5" rx="3.6" ry="2.7" transform="rotate(195 556.7 85.5)" fill="#518345"/>
<ellipse cx="557.6" cy="88.5" rx="4.2" ry="2.8" transform="rotate(107 557.6 88.5)" fill="#518345"/>
<ellipse cx="557.5" cy="83.9" rx="3.5" ry="2.1" transform="rotate(283 557.5 83.9)" fill="#5e9052"/>
<ellipse cx="561.5" cy="85.6" rx="3.1" ry="2.3" transform="rotate(331 561.5 85.6)" fill="#3c6733"/>
<ellipse cx="558.9" cy="86.9" rx="3.4" ry="2.1" transform="rotate(43 558.9 86.9)" fill="#457538"/>
<ellipse cx="557.1" cy="85.3" rx="3.3" ry="2.1" transform="rotate(206 557.1 85.3)" fill="#3c6733"/>
<ellipse cx="567.2" cy="91.9" rx="2.8" ry="2.1" transform="rotate(297 567.2 91.9)" fill="#457538"/>
<ellipse cx="567.6" cy="94.4" rx="3" ry="2.1" transform="rotate(71 567.6 94.4)" fill="#3c6733"/>
<ellipse cx="565.3" cy="91.4" rx="3.3" ry="2.4" transform="rotate(260 565.3 91.4)" fill="#568a4a"/>
<ellipse cx="568.2" cy="91.6" rx="3.4" ry="2.4" transform="rotate(325 568.2 91.6)" fill="#568a4a"/>
<ellipse cx="567.4" cy="94" rx="2.9" ry="2" transform="rotate(64 567.4 94)" fill="#518345"/>
<ellipse cx="542.6" cy="90.1" rx="3.3" ry="2" transform="rotate(277 542.6 90.1)" fill="#3c6733"/>
<ellipse cx="545.2" cy="92.3" rx="3.2" ry="2.2" transform="rotate(25 545.2 92.3)" fill="#568a4a"/>
<ellipse cx="541.6" cy="92.5" rx="3.5" ry="2.6" transform="rotate(98 541.6 92.5)" fill="#5e9052"/>
<ellipse cx="540.8" cy="91.8" rx="3.5" ry="2.6" transform="rotate(196 540.8 91.8)" fill="#457538"/>
<ellipse cx="543.2" cy="90.8" rx="2.8" ry="1.8" transform="rotate(280 543.2 90.8)" fill="#78a86b"/>
<ellipse cx="543.1" cy="102.6" rx="3" ry="2.2" transform="rotate(283 543.1 102.6)" fill="#568a4a"/>
<ellipse cx="542.9" cy="105.4" rx="3.7" ry="2.5" transform="rotate(71 542.9 105.4)" fill="#568a4a"/>
<ellipse cx="543.5" cy="104.4" rx="3" ry="1.7" transform="rotate(16 543.5 104.4)" fill="#3c6733"/>
<ellipse cx="540.1" cy="102.6" rx="3.2" ry="1.9" transform="rotate(216 540.1 102.6)" fill="#3c6733"/>
<ellipse cx="544.1" cy="103.4" rx="2.8" ry="2" transform="rotate(332 544.1 103.4)" fill="#518345"/>
<ellipse cx="558.7" cy="104" rx="2.6" ry="1.9" transform="rotate(43 558.7 104)" fill="#568a4a"/>
<ellipse cx="555.7" cy="101.6" rx="3.7" ry="2.3" transform="rotate(209 555.7 101.6)" fill="#78a86b"/>
<ellipse cx="557.5" cy="100.7" rx="3.7" ry="2.6" transform="rotate(293 557.5 100.7)" fill="#78a86b"/>
<ellipse cx="557.9" cy="100.9" rx="3.6" ry="2.1" transform="rotate(293 557.9 100.9)" fill="#5e9052"/>
<ellipse cx="559.7" cy="101.8" rx="3.1" ry="2.2" transform="rotate(368 559.7 101.8)" fill="#5e9052"/>
<ellipse cx="554.1" cy="114.2" rx="3.1" ry="2" transform="rotate(95 554.1 114.2)" fill="#568a4a"/>
<ellipse cx="555" cy="112.5" rx="2.9" ry="1.8" transform="rotate(302 555 112.5)" fill="#6c9d60"/>
<ellipse cx="556.5" cy="111.8" rx="2.7" ry="1.9" transform="rotate(332 556.5 111.8)" fill="#457538"/>
<ellipse cx="553.2" cy="112.2" rx="2.6" ry="1.6" transform="rotate(242 553.2 112.2)" fill="#6c9d60"/>
<ellipse cx="554.9" cy="113.8" rx="3.5" ry="2.2" transform="rotate(34 554.9 113.8)" fill="#3c6733"/>
<ellipse cx="565.2" cy="109.4" rx="3.6" ry="2.4" transform="rotate(299 565.2 109.4)" fill="#568a4a"/>
<ellipse cx="566.4" cy="109.3" rx="3.3" ry="2" transform="rotate(324 566.4 109.3)" fill="#518345"/>
<ellipse cx="562.9" cy="109.7" rx="3.1" ry="2.2" transform="rotate(193 562.9 109.7)" fill="#5e9052"/>
<ellipse cx="563" cy="110.8" rx="3.1" ry="2.1" transform="rotate(150 563 110.8)" fill="#518345"/>
<ellipse cx="564.7" cy="109.3" rx="2.7" ry="1.8" transform="rotate(263 564.7 109.3)" fill="#518345"/>
<path d="M611,121 Q614,94.5 621,69" stroke="#5f8f4a" stroke-width="1.2" fill="none"/>
<path d="M620,74.2 L603,71" stroke="#5a8a46" stroke-width="0.8" fill="none"/>
<path d="M618,84.6 L618,84" stroke="#5a8a46" stroke-width="0.8" fill="none"/>
<path d="M616,95 L602,91" stroke="#5a8a46" stroke-width="0.8" fill="none"/>
<path d="M614,105.4 L616,104" stroke="#5a8a46" stroke-width="0.8" fill="none"/>
<path d="M611.5,118.4 L606,117" stroke="#5a8a46" stroke-width="0.8" fill="none"/>
<path d="M612,115.8 L615,116" stroke="#5a8a46" stroke-width="0.8" fill="none"/>
<ellipse cx="600.1" cy="71.4" rx="3.9" ry="2.8" transform="rotate(162 600.1 71.4)" fill="#3c6733"/>
<ellipse cx="606.4" cy="71" rx="3.3" ry="2" transform="rotate(367 606.4 71)" fill="#457538"/>
<ellipse cx="600.4" cy="69.5" rx="4.3" ry="2.7" transform="rotate(243 600.4 69.5)" fill="#6c9d60"/>
<ellipse cx="599.4" cy="71.3" rx="3.2" ry="1.9" transform="rotate(170 599.4 71.3)" fill="#518345"/>
<ellipse cx="600.9" cy="73.4" rx="3.5" ry="2.3" transform="rotate(123 600.9 73.4)" fill="#78a86b"/>
<ellipse cx="604.7" cy="70.3" rx="3.5" ry="2.1" transform="rotate(306 604.7 70.3)" fill="#5e9052"/>
<ellipse cx="602" cy="73.6" rx="3.6" ry="2.3" transform="rotate(94 602 73.6)" fill="#6c9d60"/>
<ellipse cx="620.2" cy="68.8" rx="3.1" ry="1.8" transform="rotate(108 620.2 68.8)" fill="#568a4a"/>
<ellipse cx="620.3" cy="69.6" rx="3.3" ry="2.3" transform="rotate(84 620.3 69.6)" fill="#568a4a"/>
<ellipse cx="619.2" cy="67.5" rx="3.2" ry="2" transform="rotate(179 619.2 67.5)" fill="#457538"/>
<ellipse cx="622.2" cy="70.2" rx="3.3" ry="2.2" transform="rotate(82 622.2 70.2)" fill="#6c9d60"/>
<ellipse cx="619.1" cy="66.9" rx="3.3" ry="2.3" transform="rotate(225 619.1 66.9)" fill="#568a4a"/>
<ellipse cx="618.8" cy="84.3" rx="3.3" ry="2.2" transform="rotate(13 618.8 84.3)" fill="#568a4a"/>
<ellipse cx="618.4" cy="84.6" rx="3.5" ry="2.5" transform="rotate(73 618.4 84.6)" fill="#5e9052"/>
<ellipse cx="618.8" cy="83.4" rx="2.9" ry="2" transform="rotate(332 618.8 83.4)" fill="#518345"/>
<ellipse cx="616.5" cy="84.6" rx="3.1" ry="2.1" transform="rotate(173 616.5 84.6)" fill="#457538"/>
<ellipse cx="615.7" cy="84" rx="3.5" ry="2.5" transform="rotate(175 615.7 84)" fill="#568a4a"/>
<ellipse cx="603.8" cy="90.3" rx="2.6" ry="1.6" transform="rotate(335 603.8 90.3)" fill="#568a4a"/>
<ellipse cx="604.1" cy="90.8" rx="3" ry="1.7" transform="rotate(360 604.1 90.8)" fill="#518345"/>
<ellipse cx="604" cy="89.9" rx="3.1" ry="1.7" transform="rotate(330 604 89.9)" fill="#78a86b"/>
<ellipse cx="604.8" cy="92.2" rx="2.7" ry="1.5" transform="rotate(42 604.8 92.2)" fill="#518345"/>
<ellipse cx="599.3" cy="91.6" rx="3.6" ry="2.3" transform="rotate(174 599.3 91.6)" fill="#568a4a"/>
<ellipse cx="617.7" cy="102.4" rx="2.7" ry="1.8" transform="rotate(318 617.7 102.4)" fill="#3c6733"/>
<ellipse cx="614.4" cy="102" rx="3.6" ry="2" transform="rotate(217 614.4 102)" fill="#457538"/>
<ellipse cx="618.6" cy="104.2" rx="3.5" ry="2" transform="rotate(-4 618.6 104.2)" fill="#568a4a"/>
<ellipse cx="613.2" cy="102.6" rx="3.5" ry="2.4" transform="rotate(206 613.2 102.6)" fill="#6c9d60"/>
<ellipse cx="615.7" cy="102.5" rx="2.7" ry="2" transform="rotate(242 615.7 102.5)" fill="#568a4a"/>
<ellipse cx="607.2" cy="118.4" rx="3.1" ry="2.2" transform="rotate(56 607.2 118.4)" fill="#5e9052"/>
<ellipse cx="606.4" cy="115.8" rx="2.9" ry="1.6" transform="rotate(306 606.4 115.8)" fill="#568a4a"/>
<ellipse cx="606.6" cy="115.8" rx="3.6" ry="2.5" transform="rotate(264 606.6 115.8)" fill="#518345"/>
<ellipse cx="605" cy="116.5" rx="3.1" ry="2.2" transform="rotate(210 605 116.5)" fill="#568a4a"/>
<ellipse cx="604.4" cy="118.1" rx="2.8" ry="1.8" transform="rotate(144 604.4 118.1)" fill="#5e9052"/>
<ellipse cx="614.9" cy="117" rx="3.2" ry="2.3" transform="rotate(114 614.9 117)" fill="#457538"/>
<ellipse cx="614.8" cy="116.6" rx="3.6" ry="2.7" transform="rotate(86 614.8 116.6)" fill="#78a86b"/>
<ellipse cx="615.5" cy="114.8" rx="3.5" ry="2.3" transform="rotate(288 615.5 114.8)" fill="#6c9d60"/>
<ellipse cx="612.9" cy="115.5" rx="2.8" ry="2" transform="rotate(220 612.9 115.5)" fill="#518345"/>
<ellipse cx="614.7" cy="116.5" rx="3" ry="2.1" transform="rotate(132 614.7 116.5)" fill="#6c9d60"/>
<path d="M652.8,121 Q651.6,92.5 649,65" stroke="#5f8f4a" stroke-width="1.2" fill="none"/>
<path d="M652.9,121 Q654.4,97 658,74" stroke="#5f8f4a" stroke-width="1.2" fill="none"/>
<path d="M649.4,70.6 L643,69" stroke="#5a8a46" stroke-width="0.8" fill="none"/>
<path d="M650.1,81.8 L637,81" stroke="#5a8a46" stroke-width="0.8" fill="none"/>
<path d="M656.5,88.1 L662,89" stroke="#5a8a46" stroke-width="0.8" fill="none"/>
<path d="M656.2,90.5 L670,91" stroke="#5a8a46" stroke-width="0.8" fill="none"/>
<path d="M655.7,95.2 L654,95" stroke="#5a8a46" stroke-width="0.8" fill="none"/>
<path d="M651.8,107 L642,106" stroke="#5a8a46" stroke-width="0.8" fill="none"/>
<path d="M654.7,104.5 L657,104" stroke="#5a8a46" stroke-width="0.8" fill="none"/>
<path d="M653.9,111.6 L662,112" stroke="#5a8a46" stroke-width="0.8" fill="none"/>
<path d="M652.4,115.4 L648,114" stroke="#5a8a46" stroke-width="0.8" fill="none"/>
<ellipse cx="648" cy="64.2" rx="3.5" ry="2.5" transform="rotate(152 648 64.2)" fill="#6c9d60"/>
<ellipse cx="647.5" cy="63.9" rx="3.5" ry="2.2" transform="rotate(187 647.5 63.9)" fill="#518345"/>
<ellipse cx="649.5" cy="64.9" rx="2.8" ry="1.9" transform="rotate(61 649.5 64.9)" fill="#6c9d60"/>
<ellipse cx="647.1" cy="65.6" rx="3.6" ry="2.1" transform="rotate(150 647.1 65.6)" fill="#3c6733"/>
<ellipse cx="648.2" cy="64.5" rx="3.3" ry="2.3" transform="rotate(117 648.2 64.5)" fill="#6c9d60"/>
<ellipse cx="644.6" cy="69.2" rx="3.3" ry="1.9" transform="rotate(-3 644.6 69.2)" fill="#78a86b"/>
<ellipse cx="644.4" cy="67.9" rx="3.2" ry="1.9" transform="rotate(325 644.4 67.9)" fill="#3c6733"/>
<ellipse cx="644.7" cy="69.8" rx="3.3" ry="2.2" transform="rotate(16 644.7 69.8)" fill="#78a86b"/>
<ellipse cx="644.3" cy="69.2" rx="2.8" ry="1.6" transform="rotate(-8 644.3 69.2)" fill="#6c9d60"/>
<ellipse cx="641.1" cy="70.4" rx="3.1" ry="2.3" transform="rotate(152 641.1 70.4)" fill="#78a86b"/>
<ellipse cx="656" cy="72" rx="3.2" ry="2.4" transform="rotate(203 656 72)" fill="#6c9d60"/>
<ellipse cx="658.1" cy="73.9" rx="4.3" ry="2.8" transform="rotate(68 658.1 73.9)" fill="#78a86b"/>
<ellipse cx="660.4" cy="75.6" rx="4.4" ry="2.6" transform="rotate(34 660.4 75.6)" fill="#5e9052"/>
<ellipse cx="659.1" cy="72.7" rx="3.8" ry="2.1" transform="rotate(359 659.1 72.7)" fill="#5e9052"/>
<ellipse cx="658.8" cy="70.6" rx="3.9" ry="2.9" transform="rotate(260 658.8 70.6)" fill="#518345"/>
<ellipse cx="657.6" cy="73.7" rx="3.3" ry="2.3" transform="rotate(118 657.6 73.7)" fill="#3c6733"/>
<ellipse cx="658.1" cy="72" rx="3.5" ry="2.1" transform="rotate(254 658.1 72)" fill="#3c6733"/>
<ellipse cx="635.1" cy="82.2" rx="4.1" ry="3" transform="rotate(156 635.1 82.2)" fill="#3c6733"/>
<ellipse cx="636.7" cy="79.8" rx="3.1" ry="2.2" transform="rotate(244 636.7 79.8)" fill="#6c9d60"/>
<ellipse cx="639.8" cy="78.9" rx="3.2" ry="2" transform="rotate(291 639.8 78.9)" fill="#3c6733"/>
<ellipse cx="638.8" cy="79.1" rx="3.6" ry="2.2" transform="rotate(319 638.8 79.1)" fill="#3c6733"/>
<ellipse cx="638.7" cy="82.1" rx="3.5" ry="2.4" transform="rotate(25 638.7 82.1)" fill="#3c6733"/>
<ellipse cx="635.6" cy="80.7" rx="4.2" ry="2.5" transform="rotate(194 635.6 80.7)" fill="#518345"/>
<ellipse cx="640" cy="81.3" rx="3.4" ry="2.4" transform="rotate(-2 640 81.3)" fill="#457538"/>
<ellipse cx="660.3" cy="91.7" rx="3.2" ry="2.4" transform="rotate(92 660.3 91.7)" fill="#78a86b"/>
<ellipse cx="661.1" cy="87.9" rx="3.7" ry="2.2" transform="rotate(228 661.1 87.9)" fill="#518345"/>
<ellipse cx="664.5" cy="88.7" rx="3.4" ry="2" transform="rotate(336 664.5 88.7)" fill="#3c6733"/>
<ellipse cx="661" cy="91.8" rx="3.1" ry="2.1" transform="rotate(93 661 91.8)" fill="#568a4a"/>
<ellipse cx="665.8" cy="89.3" rx="3.5" ry="2" transform="rotate(-19 665.8 89.3)" fill="#78a86b"/>
<ellipse cx="663.9" cy="88.5" rx="3.5" ry="2" transform="rotate(335 663.9 88.5)" fill="#5e9052"/>
<ellipse cx="660.7" cy="88.6" rx="3.3" ry="2.3" transform="rotate(216 660.7 88.6)" fill="#518345"/>
<ellipse cx="668.1" cy="90" rx="3.6" ry="2.5" transform="rotate(229 668.1 90)" fill="#518345"/>
<ellipse cx="670.5" cy="92.3" rx="3.4" ry="2.4" transform="rotate(78 670.5 92.3)" fill="#518345"/>
<ellipse cx="672" cy="91.1" rx="3.2" ry="2.3" transform="rotate(24 672 91.1)" fill="#6c9d60"/>
<ellipse cx="670.5" cy="90.2" rx="3.6" ry="2.6" transform="rotate(291 670.5 90.2)" fill="#457538"/>
<ellipse cx="668.1" cy="91.8" rx="2.7" ry="1.9" transform="rotate(134 668.1 91.8)" fill="#6c9d60"/>
<ellipse cx="654.9" cy="93.9" rx="2.7" ry="1.7" transform="rotate(304 654.9 93.9)" fill="#457538"/>
<ellipse cx="651.9" cy="96.9" rx="3.7" ry="2.1" transform="rotate(121 651.9 96.9)" fill="#518345"/>
<ellipse cx="655.3" cy="92.9" rx="2.9" ry="2" transform="rotate(288 655.3 92.9)" fill="#78a86b"/>
<ellipse cx="655.3" cy="94.3" rx="2.7" ry="1.9" transform="rotate(320 655.3 94.3)" fill="#457538"/>
<ellipse cx="651.7" cy="94.7" rx="2.6" ry="1.9" transform="rotate(177 651.7 94.7)" fill="#518345"/>
<ellipse cx="642.8" cy="107" rx="3.2" ry="2.4" transform="rotate(36 642.8 107)" fill="#568a4a"/>
<ellipse cx="641.9" cy="104.9" rx="3.5" ry="2.4" transform="rotate(264 641.9 104.9)" fill="#518345"/>
<ellipse cx="641.7" cy="105.3" rx="3.6" ry="2.5" transform="rotate(230 641.7 105.3)" fill="#457538"/>
<ellipse cx="639.6" cy="106.4" rx="3.5" ry="2" transform="rotate(148 639.6 106.4)" fill="#518345"/>
<ellipse cx="640.6" cy="105.7" rx="2.8" ry="1.9" transform="rotate(193 640.6 105.7)" fill="#3c6733"/>
<ellipse cx="658.6" cy="105.9" rx="3.7" ry="2.3" transform="rotate(55 658.6 105.9)" fill="#78a86b"/>
<ellipse cx="656.3" cy="103.6" rx="3.7" ry="2.1" transform="rotate(210 656.3 103.6)" fill="#3c6733"/>
<ellipse cx="657.1" cy="105.2" rx="3.1" ry="2.3" transform="rotate(101 657.1 105.2)" fill="#5e9052"/>
<ellipse cx="658.3" cy="102" rx="2.6" ry="1.7" transform="rotate(316 658.3 102)" fill="#5e9052"/>
<ellipse cx="657" cy="105.4" rx="3.3" ry="2.1" transform="rotate(91 657 105.4)" fill="#457538"/>
<ellipse cx="661.5" cy="112.6" rx="3.3" ry="2" transform="rotate(112 661.5 112.6)" fill="#3c6733"/>
<ellipse cx="662.4" cy="110.2" rx="3.3" ry="2.4" transform="rotate(298 662.4 110.2)" fill="#457538"/>
<ellipse cx="663.9" cy="112.3" rx="2.9" ry="2" transform="rotate(1 663.9 112.3)" fill="#6c9d60"/>
<ellipse cx="662.2" cy="111.6" rx="2.7" ry="1.5" transform="rotate(265 662.2 111.6)" fill="#518345"/>
<ellipse cx="663.1" cy="111.7" rx="2.9" ry="2" transform="rotate(323 663.1 111.7)" fill="#6c9d60"/>
<ellipse cx="650.5" cy="113.5" rx="3.6" ry="2.1" transform="rotate(349 650.5 113.5)" fill="#518345"/>
<ellipse cx="646.4" cy="114.4" rx="3.6" ry="2.6" transform="rotate(162 646.4 114.4)" fill="#5e9052"/>
<ellipse cx="648" cy="114.5" rx="3.2" ry="2.3" transform="rotate(93 648 114.5)" fill="#6c9d60"/>
<ellipse cx="648.3" cy="115" rx="3.2" ry="2" transform="rotate(99 648.3 115)" fill="#5e9052"/>
<ellipse cx="646.8" cy="113.3" rx="2.9" ry="1.7" transform="rotate(206 646.8 113.3)" fill="#6c9d60"/>
<path d="M397,126.1 L430.7,126.1 L428.6,160.6 Q428.6,161.6 426.6,161.6 L401.1,161.6 Q399.1,161.6 399.1,160.6 Z" fill="url(#potg)"/>
<path d="M399.5,126.4 Q402,129.7 404.4,126.4 Z" fill="#6e3826" opacity="0.55"/>
<path d="M405.4,126.4 Q407.9,129.7 410.4,126.4 Z" fill="#6e3826" opacity="0.55"/>
<path d="M411.4,126.4 Q413.9,129.7 416.3,126.4 Z" fill="#6e3826" opacity="0.55"/>
<path d="M417.3,126.4 Q419.8,129.7 422.3,126.4 Z" fill="#6e3826" opacity="0.55"/>
<path d="M423.3,126.4 Q425.7,129.7 428.2,126.4 Z" fill="#6e3826" opacity="0.55"/>
<path d="M392.8,122.9 L434.9,122.9 L434.9,124.8 Q433.9,126.8 413.9,127.2 Q393.8,126.8 392.8,124.8 Z" fill="#8c4f3b"/>
<ellipse cx="413.9" cy="122.9" rx="21" ry="2.3" fill="#9c5b45"/>
<ellipse cx="413.9" cy="122.6" rx="18.8" ry="1.5" fill="#7e5040"/>
<path d="M444.6,126.1 L478.6,126.1 L476.4,160.6 Q476.4,161.6 474.4,161.6 L448.7,161.6 Q446.7,161.6 446.7,160.6 Z" fill="url(#potg)"/>
<path d="M447.1,126.4 Q449.6,129.7 452.1,126.4 Z" fill="#6e3826" opacity="0.55"/>
<path d="M453.1,126.4 Q455.6,129.7 458.1,126.4 Z" fill="#6e3826" opacity="0.55"/>
<path d="M459.1,126.4 Q461.6,129.7 464.1,126.4 Z" fill="#6e3826" opacity="0.55"/>
<path d="M465.1,126.4 Q467.6,129.7 470.1,126.4 Z" fill="#6e3826" opacity="0.55"/>
<path d="M471.1,126.4 Q473.6,129.7 476.1,126.4 Z" fill="#6e3826" opacity="0.55"/>
<path d="M440.3,122.9 L482.8,122.9 L482.8,124.8 Q481.8,126.8 461.6,127.2 Q441.3,126.8 440.3,124.8 Z" fill="#8c4f3b"/>
<ellipse cx="461.6" cy="122.9" rx="21.2" ry="2.3" fill="#9c5b45"/>
<ellipse cx="461.6" cy="122.6" rx="19.1" ry="1.5" fill="#7e5040"/>
<path d="M493.1,125.8 L525.9,125.8 L523.9,160.6 Q523.9,161.6 521.9,161.6 L497.1,161.6 Q495.1,161.6 495.1,160.6 Z" fill="url(#potg)"/>
<path d="M495.6,126.1 Q498,129.4 500.4,126.1 Z" fill="#6e3826" opacity="0.55"/>
<path d="M501.4,126.1 Q503.7,129.4 506.1,126.1 Z" fill="#6e3826" opacity="0.55"/>
<path d="M507.1,126.1 Q509.5,129.4 511.9,126.1 Z" fill="#6e3826" opacity="0.55"/>
<path d="M512.9,126.1 Q515.3,129.4 517.6,126.1 Z" fill="#6e3826" opacity="0.55"/>
<path d="M518.6,126.1 Q521,129.4 523.4,126.1 Z" fill="#6e3826" opacity="0.55"/>
<path d="M489,122.6 L530,122.6 L530,124.5 Q529,126.5 509.5,126.9 Q490,126.5 489,124.5 Z" fill="#8c4f3b"/>
<ellipse cx="509.5" cy="122.6" rx="20.5" ry="2.3" fill="#9c5b45"/>
<ellipse cx="509.5" cy="122.3" rx="18.3" ry="1.5" fill="#7e5040"/>
<path d="M538.8,126.7 L571.9,126.7 L569.8,160.6 Q569.8,161.6 567.8,161.6 L542.9,161.6 Q540.9,161.6 540.9,160.6 Z" fill="url(#potg)"/>
<path d="M541.3,127 Q543.7,130.3 546.1,127 Z" fill="#6e3826" opacity="0.55"/>
<path d="M547.1,127 Q549.5,130.3 551.9,127 Z" fill="#6e3826" opacity="0.55"/>
<path d="M552.9,127 Q555.4,130.3 557.8,127 Z" fill="#6e3826" opacity="0.55"/>
<path d="M558.8,127 Q561.2,130.3 563.6,127 Z" fill="#6e3826" opacity="0.55"/>
<path d="M564.6,127 Q567,130.3 569.4,127 Z" fill="#6e3826" opacity="0.55"/>
<path d="M534.7,123.5 L576,123.5 L576,125.4 Q575,127.4 555.4,127.8 Q535.7,127.4 534.7,125.4 Z" fill="#8c4f3b"/>
<ellipse cx="555.4" cy="123.5" rx="20.6" ry="2.3" fill="#9c5b45"/>
<ellipse cx="555.4" cy="123.2" rx="18.4" ry="1.5" fill="#7e5040"/>
<path d="M588.8,126.2 L622.5,126.2 L620.4,160.6 Q620.4,161.6 618.4,161.6 L592.9,161.6 Q590.9,161.6 590.9,160.6 Z" fill="url(#potg)"/>
<path d="M591.3,126.5 Q593.8,129.8 596.2,126.5 Z" fill="#6e3826" opacity="0.55"/>
<path d="M597.2,126.5 Q599.7,129.8 602.2,126.5 Z" fill="#6e3826" opacity="0.55"/>
<path d="M603.2,126.5 Q605.6,129.8 608.1,126.5 Z" fill="#6e3826" opacity="0.55"/>
<path d="M609.1,126.5 Q611.6,129.8 614.1,126.5 Z" fill="#6e3826" opacity="0.55"/>
<path d="M615.1,126.5 Q617.5,129.8 620,126.5 Z" fill="#6e3826" opacity="0.55"/>
<path d="M584.6,123 L626.7,123 L626.7,124.9 Q625.7,126.9 605.7,127.3 Q585.6,126.9 584.6,124.9 Z" fill="#8c4f3b"/>
<ellipse cx="605.7" cy="123" rx="21.1" ry="2.3" fill="#9c5b45"/>
<ellipse cx="605.7" cy="122.7" rx="18.9" ry="1.5" fill="#7e5040"/>
<path d="M636.9,126.9 L670.6,126.9 L668.5,160.6 Q668.5,161.6 666.5,161.6 L641,161.6 Q639,161.6 639,160.6 Z" fill="url(#potg)"/>
<path d="M639.4,127.2 Q641.9,130.5 644.3,127.2 Z" fill="#6e3826" opacity="0.55"/>
<path d="M645.3,127.2 Q647.8,130.5 650.3,127.2 Z" fill="#6e3826" opacity="0.55"/>
<path d="M651.3,127.2 Q653.8,130.5 656.2,127.2 Z" fill="#6e3826" opacity="0.55"/>
<path d="M657.2,127.2 Q659.7,130.5 662.2,127.2 Z" fill="#6e3826" opacity="0.55"/>
<path d="M663.2,127.2 Q665.6,130.5 668.1,127.2 Z" fill="#6e3826" opacity="0.55"/>
<path d="M632.7,123.7 L674.8,123.7 L674.8,125.6 Q673.8,127.6 653.8,128 Q633.7,127.6 632.7,125.6 Z" fill="#8c4f3b"/>
<ellipse cx="653.8" cy="123.7" rx="21" ry="2.3" fill="#9c5b45"/>
<ellipse cx="653.8" cy="123.4" rx="18.8" ry="1.5" fill="#7e5040"/>
</g>
<g font-family="Liberation Serif,serif" font-weight="bold" font-size="9.3" fill="#2a2a2a">
<text x="400.9" y="181" textLength="22" lengthAdjust="spacingAndGlyphs">- BCP</text>
<text x="445.2" y="181" textLength="23" lengthAdjust="spacingAndGlyphs">+ BCP</text>
<text x="495.2" y="181" textLength="22" lengthAdjust="spacingAndGlyphs">- BCP</text>
<text x="542.1" y="181" textLength="23" lengthAdjust="spacingAndGlyphs">+ BCP</text>
<text x="596.3" y="181" textLength="22" lengthAdjust="spacingAndGlyphs">- BCP</text>
<text x="643.3" y="181" textLength="23" lengthAdjust="spacingAndGlyphs">+ BCP</text>
<path d="M419,184.8 Q419,187 421,187 L447.6,187 Q449.6,187 449.6,184.8 M434.2,187 L434.2,191" stroke="#666" stroke-width="0.9" fill="none"/>
<text x="428.7" y="203.2" textLength="18.7" lengthAdjust="spacingAndGlyphs">RC-0</text>
<path d="M517.2,184.8 Q517.2,187 519.2,187 L546,187 Q548,187 548,184.8 M532.8,187 L532.8,191" stroke="#666" stroke-width="0.9" fill="none"/>
<text x="519.6" y="203.2" textLength="25" lengthAdjust="spacingAndGlyphs">RC-0.5</text>
<path d="M619.5,184.8 Q619.5,187 621.5,187 L648.6,187 Q650.6,187 650.6,184.8 M635,187 L635,191" stroke="#666" stroke-width="0.9" fill="none"/>
<text x="623.5" y="203.2" textLength="22.5" lengthAdjust="spacingAndGlyphs">RC-10</text>
</g>
<g font-family="Liberation Serif,serif" fill="#333">
<path d="M428.8,219.7 L428.8,401 L651.7,401" stroke="#444" stroke-width="1.2" fill="none"/>
<path d="M425.6,401 L428.8,401" stroke="#444" stroke-width="1.1"/>
<text x="423.8" y="404.2" font-size="10" text-anchor="end">0</text>
<path d="M425.6,355.7 L428.8,355.7" stroke="#444" stroke-width="1.1"/>
<text x="423.8" y="358.9" font-size="10" text-anchor="end">10</text>
<path d="M425.6,310.4 L428.8,310.4" stroke="#444" stroke-width="1.1"/>
<text x="423.8" y="313.6" font-size="10" text-anchor="end">20</text>
<path d="M425.6,265 L428.8,265" stroke="#444" stroke-width="1.1"/>
<text x="423.8" y="268.2" font-size="10" text-anchor="end">30</text>
<path d="M425.6,219.7 L428.8,219.7" stroke="#444" stroke-width="1.1"/>
<text x="423.8" y="222.9" font-size="10" text-anchor="end">40</text>
<rect x="444.3" y="331.2" width="18.1" height="69.8" fill="#f4f4fb" stroke="#444" stroke-width="1"/>
<path d="M453.4,326.2 L453.4,336.2 M451.4,326.2 L455.4,326.2 M451.4,336.2 L455.4,336.2" stroke="#444" stroke-width="0.9" fill="none"/>
<text x="453.4" y="324" font-size="9.5" text-anchor="middle">b</text>
<rect x="470.5" y="267.3" width="17.9" height="133.7" fill="#abacd0" stroke="#444" stroke-width="1"/>
<path d="M479.4,257.3 L479.4,277.3 M477.4,257.3 L481.4,257.3 M477.4,277.3 L481.4,277.3" stroke="#444" stroke-width="0.9" fill="none"/>
<text x="479.4" y="255.1" font-size="9.5" text-anchor="middle">a</text>
<rect x="518.4" y="306.7" width="18.1" height="94.3" fill="#f4f4fb" stroke="#444" stroke-width="1"/>
<path d="M527.5,299.5 L527.5,314 M525.5,299.5 L529.5,299.5 M525.5,314 L529.5,314" stroke="#444" stroke-width="0.9" fill="none"/>
<text x="527.5" y="297.3" font-size="9.5" text-anchor="middle">a</text>
<rect x="544.2" y="288.6" width="18.6" height="112.4" fill="#abacd0" stroke="#444" stroke-width="1"/>
<path d="M553.5,275 L553.5,302.2 M551.5,275 L555.5,275 M551.5,302.2 L555.5,302.2" stroke="#444" stroke-width="0.9" fill="none"/>
<text x="553.5" y="272.8" font-size="9.5" text-anchor="middle">a</text>
<rect x="592.7" y="355.2" width="17.4" height="45.8" fill="#f4f4fb" stroke="#444" stroke-width="1"/>
<path d="M601.4,351.1 L601.4,359.3 M599.4,351.1 L603.4,351.1 M599.4,359.3 L603.4,359.3" stroke="#444" stroke-width="0.9" fill="none"/>
<text x="601.4" y="348.9" font-size="9.5" text-anchor="middle">b</text>
<rect x="618.2" y="328.9" width="18.3" height="72.1" fill="#abacd0" stroke="#444" stroke-width="1"/>
<path d="M627.4,323.5 L627.4,334.4 M625.4,323.5 L629.4,323.5 M625.4,334.4 L629.4,334.4" stroke="#444" stroke-width="0.9" fill="none"/>
<text x="627.4" y="321.3" font-size="9.5" text-anchor="middle">a</text>
<text x="446.2" y="229.2" font-size="10.5">A</text>
<text x="529.7" y="228.4" font-size="9.6" textLength="112" lengthAdjust="spacingAndGlyphs">RC***, BCP***, RC×BCP nc</text>
<text x="443.5" y="414.2" font-size="9" textLength="20" lengthAdjust="spacingAndGlyphs">-BCP</text>
<text x="467.6" y="414.2" font-size="9" textLength="23" lengthAdjust="spacingAndGlyphs">+BCP</text>
<path d="M440.7,420.4 L492,420.4" stroke="#3a3a3a" stroke-width="1.2"/>
<text x="466.4" y="430.9" font-size="9" text-anchor="middle">RC-0</text>
<text x="516.5" y="414.2" font-size="9" textLength="20" lengthAdjust="spacingAndGlyphs">-BCP</text>
<text x="542" y="414.2" font-size="9" textLength="23" lengthAdjust="spacingAndGlyphs">+BCP</text>
<path d="M514.7,420.4 L566.2,420.4" stroke="#3a3a3a" stroke-width="1.2"/>
<text x="540.5" y="430.9" font-size="9" text-anchor="middle">RC-0.5</text>
<text x="591.3" y="414.2" font-size="9" textLength="20" lengthAdjust="spacingAndGlyphs">-BCP</text>
<text x="615.4" y="414.2" font-size="9" textLength="23" lengthAdjust="spacingAndGlyphs">+BCP</text>
<path d="M588.5,420.4 L639.8,420.4" stroke="#3a3a3a" stroke-width="1.2"/>
<text x="614.4" y="430.9" font-size="9" text-anchor="middle">RC-10</text>
<text transform="translate(411.2,310.5) rotate(-90)" font-size="10" text-anchor="middle" textLength="103" lengthAdjust="spacingAndGlyphs">Fruit fresh weight (g/ plant)</text>
</g>
<!-- panel borders -->
<g fill="none" stroke="#000" stroke-width="1" stroke-dasharray="4 3" shape-rendering="crispEdges">
<path d="M19,14.5 H341 M19,460.5 H341 M16.5,15 V460 M340.5,15 V460"/>
<path d="M373,14.5 H695 M373,460.5 H695 M370.5,15 V460 M694.5,15 V460"/>
<path d="M713,14.5 H998 M713,460.5 H998 M710.5,15 V460 M997.5,15 V460"/>
</g>

<!-- headings -->
<g class="sf" font-size="19" fill="#000">
<text x="22.9" y="36" textLength="295.5" lengthAdjust="spacingAndGlyphs">Preparption of biochar-based SynCom</text>
<text x="435.9" y="36" textLength="192.3" lengthAdjust="spacingAndGlyphs">Microcosmic experiment</text>
<text x="761.1" y="36" textLength="186.3" lengthAdjust="spacingAndGlyphs">Underlying mechanisms</text>
<text x="256" y="202.3">biochar-</text>
<text x="256" y="225">based</text>
<text x="256" y="248.3" textLength="66.5" lengthAdjust="spacingAndGlyphs">SynCom</text>
</g>

<!-- sans captions -->
<g class="ss" font-size="17.4" fill="#000">
<text x="24" y="151" textLength="162.8" lengthAdjust="spacing">synthetic community</text>
<text x="24.6" y="243.6" textLength="74.6" lengthAdjust="spacing">corn stalk</text>
<text x="24.2" y="450.5" textLength="114.6" lengthAdjust="spacing">rubber crumbs</text>
<text x="265" y="450.6" textLength="59" lengthAdjust="spacing">RC-MPs</text>
<text x="377.9" y="450.4" textLength="294" lengthAdjust="spacing">Promoted growth of peanut seedlings</text>

<text x="768.2" y="81.3" textLength="159" lengthAdjust="spacing">RC-MPs exert severe</text>
<text x="768" y="103.8" textLength="162" lengthAdjust="spacing">phytotoxic effects on</text>
<text x="768" y="126.3" textLength="63" lengthAdjust="spacing">peanuts</text>

<text x="766.3" y="229.2" textLength="193" lengthAdjust="spacing">BCP enhanced resistance</text>
<text x="767" y="252" textLength="151.8" lengthAdjust="spacing">of peanuts to stress</text>

<text x="772" y="344.8" textLength="143" lengthAdjust="spacing">BCP promoted the</text>
<text x="768.2" y="367.1" textLength="177" lengthAdjust="spacing">remediation process in</text>
<text x="768" y="389.6" textLength="203.4" lengthAdjust="spacing">RC-MPs contaminated soil</text>
</g>

<!-- red dashed boxes -->
<g fill="none" stroke="#e03c55" stroke-width="1" stroke-dasharray="4 3">
<path d="M761,58.5 H985"/>
<path d="M984.5,59 V137"/>
<path d="M763,136.5 H985"/>
<path d="M761.5,62 V137"/>
<path d="M761,207.5 H983"/>
<path d="M759.5,209 V262"/>
<path d="M982.5,211 V262"/>
<path d="M759,261.5 H983" stroke-dashoffset="2"/>
<path d="M761,322.5 H985" stroke-dashoffset="1"/>
<path d="M761.5,322 V401" stroke-dashoffset="2"/>
<path d="M984.5,322 V401"/>
<path d="M761,400.5 H985" stroke-dashoffset="3"/>
</g>

<!-- braces -->
<g fill="none" stroke="#222" stroke-width="1.3">
<path d="M204,58.5 C220,59 229,60 229.8,64 L229.8,135 C230,139 240,140 258.5,140.3 C240,140.6 230,141 229.8,145 L229.8,221 C229.6,225 220,226 204,226.5"/>
<path d="M752,89.8 C740,90.2 733.6,91 733.4,94 L733.4,207 C733.2,210 731,211 728,211 C731,211 733.2,212 733.4,215 L733.4,328 C733.6,331 740,331.6 752.5,331.8"/>
</g>

<!-- arrows -->
<g fill="#000">
<rect x="169.8" y="376" width="73" height="6"/>
<polygon points="242,373.3 248.2,379 242,384.8"/>
<rect x="342.2" y="208.9" width="35.5" height="4"/>
<polygon points="377.2,206.5 381.6,210.9 377.2,215.4"/>
<rect x="693.8" y="209.2" width="35" height="3.8"/>
<polygon points="728.3,206.8 732.8,211.1 728.3,215.4"/>
</g>

</svg>
</body></html>
